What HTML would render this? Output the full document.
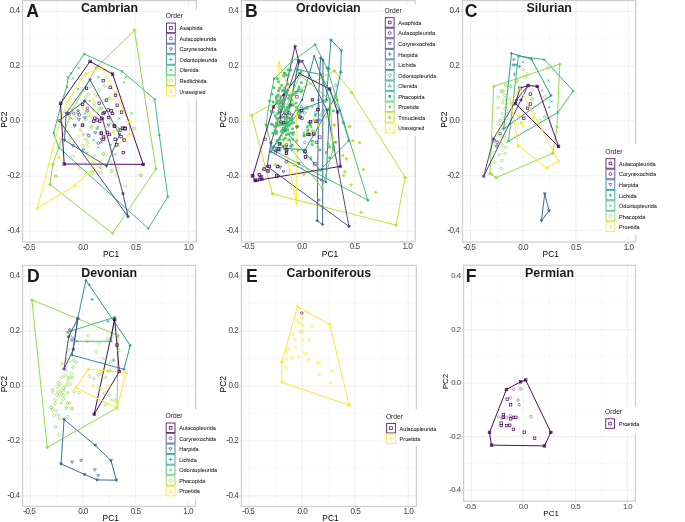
<!DOCTYPE html>
<html><head><meta charset="utf-8"><style>
html,body{margin:0;padding:0;background:#fff;}
svg{display:block;font-family:"Liberation Sans", sans-serif;will-change:transform;}
</style></head><body>
<svg width="685" height="522" viewBox="0 0 685 522">
<rect width="685" height="522" fill="#fff"/>
<clipPath id="clipA"><rect x="22.6" y="0.6" width="173.75" height="241.47"/></clipPath>
<path d="M56.62,0.6V242.07M109.38,0.6V242.07M162.12,0.6V242.07M22.6,203.62H196.35M22.6,148.68H196.35M22.6,93.72H196.35M22.6,38.78H196.35" stroke="#F2F2F2" stroke-width="0.5" fill="none"/>
<path d="M30.25,0.6V242.07M83.00,0.6V242.07M135.75,0.6V242.07M188.50,0.6V242.07M22.6,231.10H196.35M22.6,176.15H196.35M22.6,121.20H196.35M22.6,66.25H196.35M22.6,11.30H196.35" stroke="#EBEBEB" stroke-width="0.8" fill="none"/>
<g clip-path="url(#clipA)">
<path d="M84.3,54.0L122.2,71.4L154.7,99.3L159.3,135.0L167.8,196.6L148.3,228.5L58.9,147.5L53.6,133.3L61.5,103.0L66.8,86.9L68.2,77.5L71.1,73.3Z" fill="none" stroke="#35B779" stroke-width="0.95" stroke-linejoin="round"/><circle cx="84.3" cy="54.0" r="0.9" fill="#35B779"/><circle cx="122.2" cy="71.4" r="0.9" fill="#35B779"/><circle cx="154.7" cy="99.3" r="0.9" fill="#35B779"/><circle cx="159.3" cy="135.0" r="0.9" fill="#35B779"/><circle cx="167.8" cy="196.6" r="0.9" fill="#35B779"/><circle cx="148.3" cy="228.5" r="0.9" fill="#35B779"/><circle cx="58.9" cy="147.5" r="0.9" fill="#35B779"/><circle cx="53.6" cy="133.3" r="0.9" fill="#35B779"/><circle cx="61.5" cy="103.0" r="0.9" fill="#35B779"/><circle cx="66.8" cy="86.9" r="0.9" fill="#35B779"/><circle cx="68.2" cy="77.5" r="0.9" fill="#35B779"/><circle cx="71.1" cy="73.3" r="0.9" fill="#35B779"/>
<path d="M134.5,30.3L155.9,169.0L112.6,233.3L50.0,184.5L52.7,164.4L72.2,110.0L96.3,67.5Z" fill="none" stroke="#8FD744" stroke-width="0.95" stroke-linejoin="round"/><circle cx="134.5" cy="30.3" r="0.9" fill="#8FD744"/><circle cx="155.9" cy="169.0" r="0.9" fill="#8FD744"/><circle cx="112.6" cy="233.3" r="0.9" fill="#8FD744"/><circle cx="50.0" cy="184.5" r="0.9" fill="#8FD744"/><circle cx="52.7" cy="164.4" r="0.9" fill="#8FD744"/><circle cx="72.2" cy="110.0" r="0.9" fill="#8FD744"/><circle cx="96.3" cy="67.5" r="0.9" fill="#8FD744"/>
<path d="M101.9,67.0L129.5,121.6L129.5,133.8L75.0,185.3L37.4,208.1L60.2,120.0L68.2,100.3L85.4,73.9Z" fill="none" stroke="#FDE725" stroke-width="0.95" stroke-linejoin="round"/><circle cx="101.9" cy="67.0" r="0.9" fill="#FDE725"/><circle cx="129.5" cy="121.6" r="0.9" fill="#FDE725"/><circle cx="129.5" cy="133.8" r="0.9" fill="#FDE725"/><circle cx="75.0" cy="185.3" r="0.9" fill="#FDE725"/><circle cx="37.4" cy="208.1" r="0.9" fill="#FDE725"/><circle cx="60.2" cy="120.0" r="0.9" fill="#FDE725"/><circle cx="68.2" cy="100.3" r="0.9" fill="#FDE725"/><circle cx="85.4" cy="73.9" r="0.9" fill="#FDE725"/>
<path d="M90.1,61.4L112.6,74.1L143.2,164.4L64.2,164.0L60.5,103.4Z" fill="none" stroke="#440154" stroke-width="0.95" stroke-linejoin="round"/><circle cx="90.1" cy="61.4" r="0.9" fill="#440154"/><circle cx="112.6" cy="74.1" r="0.9" fill="#440154"/><circle cx="143.2" cy="164.4" r="0.9" fill="#440154"/><circle cx="64.2" cy="164.0" r="0.9" fill="#440154"/><circle cx="60.5" cy="103.4" r="0.9" fill="#440154"/>
<path d="M84.7,101.0L102.5,118.7L123.0,193.6L128.0,216.6L59.3,120.7L67.9,113.8Z" fill="none" stroke="#443A83" stroke-width="0.95" stroke-linejoin="round"/><circle cx="84.7" cy="101.0" r="0.9" fill="#443A83"/><circle cx="102.5" cy="118.7" r="0.9" fill="#443A83"/><circle cx="123.0" cy="193.6" r="0.9" fill="#443A83"/><circle cx="128.0" cy="216.6" r="0.9" fill="#443A83"/><circle cx="59.3" cy="120.7" r="0.9" fill="#443A83"/><circle cx="67.9" cy="113.8" r="0.9" fill="#443A83"/>
<path d="M90.1,79.8L119.5,134.5L106.5,166.1L64.5,140.2L66.2,113.2Z" fill="none" stroke="#31688E" stroke-width="0.95" stroke-linejoin="round"/><circle cx="90.1" cy="79.8" r="0.9" fill="#31688E"/><circle cx="119.5" cy="134.5" r="0.9" fill="#31688E"/><circle cx="106.5" cy="166.1" r="0.9" fill="#31688E"/><circle cx="64.5" cy="140.2" r="0.9" fill="#31688E"/><circle cx="66.2" cy="113.2" r="0.9" fill="#31688E"/>
<path d="M97.09,76.06L99.46,78.43M97.09,78.43L99.46,76.06" stroke="#35B779" stroke-width="0.72" stroke-opacity="0.95"/>
<path d="M124.68,76.06L127.05,78.43M124.68,78.43L127.05,76.06" stroke="#35B779" stroke-width="0.72" stroke-opacity="0.95"/>
<path d="M122.84,81.34L125.21,83.71M122.84,83.71L125.21,81.34" stroke="#35B779" stroke-width="0.72" stroke-opacity="0.95"/>
<path d="M77.55,66.86L79.92,69.23M77.55,69.23L79.92,66.86" stroke="#35B779" stroke-width="0.72" stroke-opacity="0.95"/>
<path d="M71.80,77.21L74.17,79.58M71.80,79.58L74.17,77.21" stroke="#35B779" stroke-width="0.72" stroke-opacity="0.95"/>
<path d="M76.92,87.69L79.29,90.06M76.92,90.06L79.29,87.69" stroke="#35B779" stroke-width="0.72" stroke-opacity="0.95"/>
<path d="M88.56,99.76L90.93,102.13M88.56,102.13L90.93,99.76" stroke="#35B779" stroke-width="0.72" stroke-opacity="0.95"/>
<path d="M83.81,112.26L86.19,114.63M83.81,114.63L86.19,112.26" stroke="#35B779" stroke-width="0.72" stroke-opacity="0.95"/>
<path d="M96.75,126.06L99.12,128.43M96.75,128.43L99.12,126.06" stroke="#35B779" stroke-width="0.72" stroke-opacity="0.95"/>
<path d="M70.02,117.00L72.39,119.38M70.02,119.38L72.39,117.00" stroke="#35B779" stroke-width="0.72" stroke-opacity="0.95"/>
<path d="M130.28,112.26L132.65,114.63M130.28,114.63L132.65,112.26" stroke="#35B779" stroke-width="0.72" stroke-opacity="0.95"/>
<path d="M118.21,117.44L120.58,119.81M118.21,119.81L120.58,117.44" stroke="#35B779" stroke-width="0.72" stroke-opacity="0.95"/>
<path d="M122.09,126.92L124.46,129.29M122.09,129.29L124.46,126.92" stroke="#35B779" stroke-width="0.72" stroke-opacity="0.95"/>
<path d="M82.09,133.30L84.46,135.67M82.09,135.67L84.46,133.30" stroke="#35B779" stroke-width="0.72" stroke-opacity="0.95"/>
<path d="M92.44,138.90L94.81,141.27M92.44,141.27L94.81,138.90" stroke="#35B779" stroke-width="0.72" stroke-opacity="0.95"/>
<path d="M96.75,146.23L99.12,148.60M96.75,148.60L99.12,146.23" stroke="#35B779" stroke-width="0.72" stroke-opacity="0.95"/>
<path d="M85.97,151.40L88.34,153.77M85.97,153.77L88.34,151.40" stroke="#35B779" stroke-width="0.72" stroke-opacity="0.95"/>
<path d="M100.19,141.06L102.56,143.43M100.19,143.43L102.56,141.06" stroke="#35B779" stroke-width="0.72" stroke-opacity="0.95"/>
<path d="M86.40,132.87L88.77,135.24M86.40,135.24L88.77,132.87" stroke="#35B779" stroke-width="0.72" stroke-opacity="0.95"/>
<path d="M95.88,127.69L98.25,130.06M95.88,130.06L98.25,127.69" stroke="#35B779" stroke-width="0.72" stroke-opacity="0.95"/>
<path d="M113.90,153.12L116.27,155.50M113.90,155.50L116.27,153.12" stroke="#35B779" stroke-width="0.72" stroke-opacity="0.95"/>
<path d="M100.11,141.06L102.48,143.43M100.11,143.43L102.48,141.06" stroke="#35B779" stroke-width="0.72" stroke-opacity="0.95"/>
<path d="M109.59,143.64L111.96,146.01M109.59,146.01L111.96,143.64" stroke="#35B779" stroke-width="0.72" stroke-opacity="0.95"/>
<path d="M122.09,127.26L124.46,129.63M122.09,129.63L124.46,127.26" stroke="#35B779" stroke-width="0.72" stroke-opacity="0.95"/>
<path d="M83.11,52.81L85.49,55.19M83.11,55.19L85.49,52.81" stroke="#35B779" stroke-width="0.72" stroke-opacity="0.95"/>
<path d="M121.01,70.21L123.39,72.59M121.01,72.59L123.39,70.21" stroke="#35B779" stroke-width="0.72" stroke-opacity="0.95"/>
<path d="M153.51,98.11L155.89,100.49M153.51,100.49L155.89,98.11" stroke="#35B779" stroke-width="0.72" stroke-opacity="0.95"/>
<path d="M158.11,133.81L160.49,136.19M158.11,136.19L160.49,133.81" stroke="#35B779" stroke-width="0.72" stroke-opacity="0.95"/>
<path d="M166.61,195.41L168.99,197.79M166.61,197.79L168.99,195.41" stroke="#35B779" stroke-width="0.72" stroke-opacity="0.95"/>
<path d="M147.11,227.31L149.49,229.69M147.11,229.69L149.49,227.31" stroke="#35B779" stroke-width="0.72" stroke-opacity="0.95"/>
<path d="M57.71,146.31L60.09,148.69M57.71,148.69L60.09,146.31" stroke="#35B779" stroke-width="0.72" stroke-opacity="0.95"/>
<path d="M52.41,132.11L54.79,134.49M52.41,134.49L54.79,132.11" stroke="#35B779" stroke-width="0.72" stroke-opacity="0.95"/>
<path d="M60.31,101.81L62.69,104.19M60.31,104.19L62.69,101.81" stroke="#35B779" stroke-width="0.72" stroke-opacity="0.95"/>
<path d="M65.61,85.71L67.99,88.09M65.61,88.09L67.99,85.71" stroke="#35B779" stroke-width="0.72" stroke-opacity="0.95"/>
<path d="M67.01,76.31L69.39,78.69M67.01,78.69L69.39,76.31" stroke="#35B779" stroke-width="0.72" stroke-opacity="0.95"/>
<path d="M69.91,72.11L72.29,74.49M69.91,74.49L72.29,72.11" stroke="#35B779" stroke-width="0.72" stroke-opacity="0.95"/>
<path d="M110.92,169.87L112.54,171.49L110.92,173.12L109.30,171.49Z" fill="none" stroke="#8FD744" stroke-width="0.72" stroke-opacity="0.95"/>
<path d="M92.53,171.48L94.15,173.10L92.53,174.73L90.91,173.10Z" fill="none" stroke="#8FD744" stroke-width="0.72" stroke-opacity="0.95"/>
<path d="M55.75,174.47L57.37,176.09L55.75,177.71L54.12,176.09Z" fill="none" stroke="#8FD744" stroke-width="0.72" stroke-opacity="0.95"/>
<path d="M140.80,173.32L142.43,174.94L140.80,176.56L139.18,174.94Z" fill="none" stroke="#8FD744" stroke-width="0.72" stroke-opacity="0.95"/>
<path d="M56.22,174.85L57.84,176.47L56.22,178.09L54.60,176.47Z" fill="none" stroke="#8FD744" stroke-width="0.72" stroke-opacity="0.95"/>
<path d="M91.91,170.29L93.53,171.91L91.91,173.53L90.29,171.91Z" fill="none" stroke="#8FD744" stroke-width="0.72" stroke-opacity="0.95"/>
<path d="M101.03,171.36L102.65,172.98L101.03,174.60L99.41,172.98Z" fill="none" stroke="#8FD744" stroke-width="0.72" stroke-opacity="0.95"/>
<path d="M112.57,168.68L114.19,170.30L112.57,171.92L110.95,170.30Z" fill="none" stroke="#8FD744" stroke-width="0.72" stroke-opacity="0.95"/>
<path d="M116.59,172.97L118.21,174.59L116.59,176.21L114.97,174.59Z" fill="none" stroke="#8FD744" stroke-width="0.72" stroke-opacity="0.95"/>
<path d="M125.45,184.77L127.07,186.40L125.45,188.02L123.82,186.40Z" fill="none" stroke="#8FD744" stroke-width="0.72" stroke-opacity="0.95"/>
<path d="M140.74,174.04L142.36,175.66L140.74,177.29L139.12,175.66Z" fill="none" stroke="#8FD744" stroke-width="0.72" stroke-opacity="0.95"/>
<path d="M99.22,88.12L100.85,89.74L99.22,91.36L97.60,89.74Z" fill="none" stroke="#8FD744" stroke-width="0.72" stroke-opacity="0.95"/>
<path d="M88.45,92.86L90.07,94.48L88.45,96.11L86.83,94.48Z" fill="none" stroke="#8FD744" stroke-width="0.72" stroke-opacity="0.95"/>
<path d="M85.86,95.45L87.48,97.07L85.86,98.69L84.24,97.07Z" fill="none" stroke="#8FD744" stroke-width="0.72" stroke-opacity="0.95"/>
<path d="M95.78,93.29L97.40,94.91L95.78,96.54L94.15,94.91Z" fill="none" stroke="#8FD744" stroke-width="0.72" stroke-opacity="0.95"/>
<path d="M94.05,101.48L95.67,103.10L94.05,104.73L92.43,103.10Z" fill="none" stroke="#8FD744" stroke-width="0.72" stroke-opacity="0.95"/>
<path d="M94.48,104.50L96.11,106.12L94.48,107.74L92.86,106.12Z" fill="none" stroke="#8FD744" stroke-width="0.72" stroke-opacity="0.95"/>
<path d="M99.22,106.65L100.85,108.28L99.22,109.90L97.60,108.28Z" fill="none" stroke="#8FD744" stroke-width="0.72" stroke-opacity="0.95"/>
<path d="M101.38,106.65L103.00,108.28L101.38,109.90L99.76,108.28Z" fill="none" stroke="#8FD744" stroke-width="0.72" stroke-opacity="0.95"/>
<path d="M93.19,108.38L94.81,110.00L93.19,111.62L91.57,110.00Z" fill="none" stroke="#8FD744" stroke-width="0.72" stroke-opacity="0.95"/>
<path d="M97.07,109.67L98.69,111.29L97.07,112.92L95.45,111.29Z" fill="none" stroke="#8FD744" stroke-width="0.72" stroke-opacity="0.95"/>
<path d="M88.02,113.55L89.64,115.17L88.02,116.79L86.39,115.17Z" fill="none" stroke="#8FD744" stroke-width="0.72" stroke-opacity="0.95"/>
<path d="M91.03,115.27L92.66,116.90L91.03,118.52L89.41,116.90Z" fill="none" stroke="#8FD744" stroke-width="0.72" stroke-opacity="0.95"/>
<path d="M76.81,114.84L78.43,116.47L76.81,118.09L75.19,116.47Z" fill="none" stroke="#8FD744" stroke-width="0.72" stroke-opacity="0.95"/>
<path d="M91.47,124.76L93.09,126.38L91.47,128.00L89.84,126.38Z" fill="none" stroke="#8FD744" stroke-width="0.72" stroke-opacity="0.95"/>
<path d="M85.86,118.29L87.48,119.91L85.86,121.54L84.24,119.91Z" fill="none" stroke="#8FD744" stroke-width="0.72" stroke-opacity="0.95"/>
<path d="M104.31,84.24L105.93,85.86L104.31,87.48L102.69,85.86Z" fill="none" stroke="#8FD744" stroke-width="0.72" stroke-opacity="0.95"/>
<path d="M109.48,96.31L111.11,97.93L109.48,99.55L107.86,97.93Z" fill="none" stroke="#8FD744" stroke-width="0.72" stroke-opacity="0.95"/>
<path d="M103.45,99.33L105.07,100.95L103.45,102.57L101.83,100.95Z" fill="none" stroke="#8FD744" stroke-width="0.72" stroke-opacity="0.95"/>
<path d="M101.29,107.08L102.92,108.71L101.29,110.33L99.67,108.71Z" fill="none" stroke="#8FD744" stroke-width="0.72" stroke-opacity="0.95"/>
<path d="M110.78,120.45L112.40,122.07L110.78,123.69L109.15,122.07Z" fill="none" stroke="#8FD744" stroke-width="0.72" stroke-opacity="0.95"/>
<path d="M106.90,124.76L108.52,126.38L106.90,128.00L105.27,126.38Z" fill="none" stroke="#8FD744" stroke-width="0.72" stroke-opacity="0.95"/>
<path d="M117.24,126.48L118.86,128.10L117.24,129.73L115.62,128.10Z" fill="none" stroke="#8FD744" stroke-width="0.72" stroke-opacity="0.95"/>
<path d="M134.05,126.48L135.67,128.10L134.05,129.73L132.43,128.10Z" fill="none" stroke="#8FD744" stroke-width="0.72" stroke-opacity="0.95"/>
<path d="M116.81,91.14L118.43,92.76L116.81,94.38L115.19,92.76Z" fill="none" stroke="#8FD744" stroke-width="0.72" stroke-opacity="0.95"/>
<path d="M91.47,125.53L93.09,127.16L91.47,128.78L89.84,127.16Z" fill="none" stroke="#8FD744" stroke-width="0.72" stroke-opacity="0.95"/>
<path d="M97.07,126.39L98.69,128.02L97.07,129.64L95.45,128.02Z" fill="none" stroke="#8FD744" stroke-width="0.72" stroke-opacity="0.95"/>
<path d="M85.86,137.60L87.48,139.22L85.86,140.85L84.24,139.22Z" fill="none" stroke="#8FD744" stroke-width="0.72" stroke-opacity="0.95"/>
<path d="M88.02,141.05L89.64,142.67L88.02,144.29L86.39,142.67Z" fill="none" stroke="#8FD744" stroke-width="0.72" stroke-opacity="0.95"/>
<path d="M82.84,144.07L84.47,145.69L82.84,147.31L81.22,145.69Z" fill="none" stroke="#8FD744" stroke-width="0.72" stroke-opacity="0.95"/>
<path d="M72.50,154.84L74.12,156.47L72.50,158.09L70.88,156.47Z" fill="none" stroke="#8FD744" stroke-width="0.72" stroke-opacity="0.95"/>
<path d="M94.48,153.98L96.11,155.60L94.48,157.23L92.86,155.60Z" fill="none" stroke="#8FD744" stroke-width="0.72" stroke-opacity="0.95"/>
<path d="M103.53,152.26L105.16,153.88L103.53,155.50L101.91,153.88Z" fill="none" stroke="#8FD744" stroke-width="0.72" stroke-opacity="0.95"/>
<path d="M100.52,165.62L102.14,167.24L100.52,168.86L98.89,167.24Z" fill="none" stroke="#8FD744" stroke-width="0.72" stroke-opacity="0.95"/>
<path d="M60.86,136.31L62.48,137.93L60.86,139.55L59.24,137.93Z" fill="none" stroke="#8FD744" stroke-width="0.72" stroke-opacity="0.95"/>
<path d="M134.05,127.26L135.67,128.88L134.05,130.50L132.43,128.88Z" fill="none" stroke="#8FD744" stroke-width="0.72" stroke-opacity="0.95"/>
<path d="M118.10,127.26L119.73,128.88L118.10,130.50L116.48,128.88Z" fill="none" stroke="#8FD744" stroke-width="0.72" stroke-opacity="0.95"/>
<path d="M103.88,152.26L105.50,153.88L103.88,155.50L102.26,153.88Z" fill="none" stroke="#8FD744" stroke-width="0.72" stroke-opacity="0.95"/>
<path d="M110.78,160.45L112.40,162.07L110.78,163.69L109.15,162.07Z" fill="none" stroke="#8FD744" stroke-width="0.72" stroke-opacity="0.95"/>
<path d="M118.10,166.48L119.73,168.10L118.10,169.73L116.48,168.10Z" fill="none" stroke="#8FD744" stroke-width="0.72" stroke-opacity="0.95"/>
<path d="M101.29,166.05L102.92,167.67L101.29,169.29L99.67,167.67Z" fill="none" stroke="#8FD744" stroke-width="0.72" stroke-opacity="0.95"/>
<path d="M105.17,135.02L106.79,136.64L105.17,138.26L103.55,136.64Z" fill="none" stroke="#8FD744" stroke-width="0.72" stroke-opacity="0.95"/>
<path d="M134.50,28.68L136.12,30.30L134.50,31.92L132.88,30.30Z" fill="none" stroke="#8FD744" stroke-width="0.72" stroke-opacity="0.95"/>
<path d="M155.90,167.38L157.52,169.00L155.90,170.62L154.28,169.00Z" fill="none" stroke="#8FD744" stroke-width="0.72" stroke-opacity="0.95"/>
<path d="M112.60,231.68L114.22,233.30L112.60,234.92L110.98,233.30Z" fill="none" stroke="#8FD744" stroke-width="0.72" stroke-opacity="0.95"/>
<path d="M50.00,182.88L51.62,184.50L50.00,186.12L48.38,184.50Z" fill="none" stroke="#8FD744" stroke-width="0.72" stroke-opacity="0.95"/>
<path d="M52.70,162.78L54.32,164.40L52.70,166.02L51.08,164.40Z" fill="none" stroke="#8FD744" stroke-width="0.72" stroke-opacity="0.95"/>
<path d="M72.20,108.38L73.82,110.00L72.20,111.62L70.58,110.00Z" fill="none" stroke="#8FD744" stroke-width="0.72" stroke-opacity="0.95"/>
<path d="M96.30,65.88L97.92,67.50L96.30,69.12L94.68,67.50Z" fill="none" stroke="#8FD744" stroke-width="0.72" stroke-opacity="0.95"/>
<path d="M57.76,157.55H60.63L59.20,155.05Z" fill="none" stroke="#FDE725" stroke-width="0.72" stroke-opacity="0.95"/>
<path d="M57.47,158.15H60.34L58.91,155.65Z" fill="none" stroke="#FDE725" stroke-width="0.72" stroke-opacity="0.95"/>
<path d="M89.17,87.72H92.04L90.60,85.23Z" fill="none" stroke="#FDE725" stroke-width="0.72" stroke-opacity="0.95"/>
<path d="M92.19,100.22H95.06L93.62,97.73Z" fill="none" stroke="#FDE725" stroke-width="0.72" stroke-opacity="0.95"/>
<path d="M67.62,101.95H70.49L69.05,99.45Z" fill="none" stroke="#FDE725" stroke-width="0.72" stroke-opacity="0.95"/>
<path d="M69.34,107.98H72.21L70.78,105.49Z" fill="none" stroke="#FDE725" stroke-width="0.72" stroke-opacity="0.95"/>
<path d="M81.84,108.84H84.71L83.28,106.35Z" fill="none" stroke="#FDE725" stroke-width="0.72" stroke-opacity="0.95"/>
<path d="M88.31,113.15H91.18L89.74,110.66Z" fill="none" stroke="#FDE725" stroke-width="0.72" stroke-opacity="0.95"/>
<path d="M68.05,116.17H70.92L69.48,113.67Z" fill="none" stroke="#FDE725" stroke-width="0.72" stroke-opacity="0.95"/>
<path d="M78.82,129.96H81.69L80.26,127.47Z" fill="none" stroke="#FDE725" stroke-width="0.72" stroke-opacity="0.95"/>
<path d="M111.50,99.79H114.37L112.93,97.30Z" fill="none" stroke="#FDE725" stroke-width="0.72" stroke-opacity="0.95"/>
<path d="M116.67,111.86H119.54L118.10,109.36Z" fill="none" stroke="#FDE725" stroke-width="0.72" stroke-opacity="0.95"/>
<path d="M128.74,122.21H131.61L130.17,119.71Z" fill="none" stroke="#FDE725" stroke-width="0.72" stroke-opacity="0.95"/>
<path d="M78.82,131.60H81.69L80.26,129.11Z" fill="none" stroke="#FDE725" stroke-width="0.72" stroke-opacity="0.95"/>
<path d="M77.53,137.21H80.40L78.97,134.71Z" fill="none" stroke="#FDE725" stroke-width="0.72" stroke-opacity="0.95"/>
<path d="M68.05,139.36H70.92L69.48,136.86Z" fill="none" stroke="#FDE725" stroke-width="0.72" stroke-opacity="0.95"/>
<path d="M86.15,147.12H89.02L87.59,144.62Z" fill="none" stroke="#FDE725" stroke-width="0.72" stroke-opacity="0.95"/>
<path d="M91.32,162.64H94.19L92.76,160.14Z" fill="none" stroke="#FDE725" stroke-width="0.72" stroke-opacity="0.95"/>
<path d="M87.88,158.33H90.75L89.31,155.83Z" fill="none" stroke="#FDE725" stroke-width="0.72" stroke-opacity="0.95"/>
<path d="M77.53,169.53H80.40L78.97,167.04Z" fill="none" stroke="#FDE725" stroke-width="0.72" stroke-opacity="0.95"/>
<path d="M112.36,132.46H115.23L113.79,129.97Z" fill="none" stroke="#FDE725" stroke-width="0.72" stroke-opacity="0.95"/>
<path d="M100.46,68.00H103.34L101.90,65.50Z" fill="none" stroke="#FDE725" stroke-width="0.72" stroke-opacity="0.95"/>
<path d="M128.06,122.60H130.94L129.50,120.10Z" fill="none" stroke="#FDE725" stroke-width="0.72" stroke-opacity="0.95"/>
<path d="M128.06,134.80H130.94L129.50,132.30Z" fill="none" stroke="#FDE725" stroke-width="0.72" stroke-opacity="0.95"/>
<path d="M73.56,186.30H76.44L75.00,183.80Z" fill="none" stroke="#FDE725" stroke-width="0.72" stroke-opacity="0.95"/>
<path d="M35.96,209.10H38.84L37.40,206.60Z" fill="none" stroke="#FDE725" stroke-width="0.72" stroke-opacity="0.95"/>
<path d="M58.76,121.00H61.64L60.20,118.50Z" fill="none" stroke="#FDE725" stroke-width="0.72" stroke-opacity="0.95"/>
<path d="M66.76,101.30H69.64L68.20,98.80Z" fill="none" stroke="#FDE725" stroke-width="0.72" stroke-opacity="0.95"/>
<path d="M83.96,74.90H86.84L85.40,72.40Z" fill="none" stroke="#FDE725" stroke-width="0.72" stroke-opacity="0.95"/>
<rect x="102.09" y="79.44" width="2.50" height="2.50" fill="none" stroke="#440154" stroke-width="0.72" stroke-opacity="0.95"/>
<rect x="85.30" y="87.03" width="2.50" height="2.50" fill="none" stroke="#440154" stroke-width="0.72" stroke-opacity="0.95"/>
<rect x="97.98" y="102.03" width="2.50" height="2.50" fill="none" stroke="#440154" stroke-width="0.72" stroke-opacity="0.95"/>
<rect x="81.34" y="103.15" width="2.50" height="2.50" fill="none" stroke="#440154" stroke-width="0.72" stroke-opacity="0.95"/>
<rect x="92.37" y="119.96" width="2.50" height="2.50" fill="none" stroke="#440154" stroke-width="0.72" stroke-opacity="0.95"/>
<rect x="95.82" y="118.67" width="2.50" height="2.50" fill="none" stroke="#440154" stroke-width="0.72" stroke-opacity="0.95"/>
<rect x="98.41" y="119.96" width="2.50" height="2.50" fill="none" stroke="#440154" stroke-width="0.72" stroke-opacity="0.95"/>
<rect x="93.67" y="116.94" width="2.50" height="2.50" fill="none" stroke="#440154" stroke-width="0.72" stroke-opacity="0.95"/>
<rect x="101.86" y="112.20" width="2.50" height="2.50" fill="none" stroke="#440154" stroke-width="0.72" stroke-opacity="0.95"/>
<rect x="108.92" y="86.17" width="2.50" height="2.50" fill="none" stroke="#440154" stroke-width="0.72" stroke-opacity="0.95"/>
<rect x="114.27" y="94.10" width="2.50" height="2.50" fill="none" stroke="#440154" stroke-width="0.72" stroke-opacity="0.95"/>
<rect x="105.22" y="98.84" width="2.50" height="2.50" fill="none" stroke="#440154" stroke-width="0.72" stroke-opacity="0.95"/>
<rect x="115.99" y="104.01" width="2.50" height="2.50" fill="none" stroke="#440154" stroke-width="0.72" stroke-opacity="0.95"/>
<rect x="120.30" y="110.91" width="2.50" height="2.50" fill="none" stroke="#440154" stroke-width="0.72" stroke-opacity="0.95"/>
<rect x="109.96" y="109.61" width="2.50" height="2.50" fill="none" stroke="#440154" stroke-width="0.72" stroke-opacity="0.95"/>
<rect x="111.25" y="112.20" width="2.50" height="2.50" fill="none" stroke="#440154" stroke-width="0.72" stroke-opacity="0.95"/>
<rect x="103.06" y="111.34" width="2.50" height="2.50" fill="none" stroke="#440154" stroke-width="0.72" stroke-opacity="0.95"/>
<rect x="106.94" y="108.75" width="2.50" height="2.50" fill="none" stroke="#440154" stroke-width="0.72" stroke-opacity="0.95"/>
<rect x="107.37" y="116.34" width="2.50" height="2.50" fill="none" stroke="#440154" stroke-width="0.72" stroke-opacity="0.95"/>
<rect x="100.48" y="116.94" width="2.50" height="2.50" fill="none" stroke="#440154" stroke-width="0.72" stroke-opacity="0.95"/>
<rect x="113.41" y="125.13" width="2.50" height="2.50" fill="none" stroke="#440154" stroke-width="0.72" stroke-opacity="0.95"/>
<rect x="123.75" y="126.86" width="2.50" height="2.50" fill="none" stroke="#440154" stroke-width="0.72" stroke-opacity="0.95"/>
<rect x="121.17" y="126.86" width="2.50" height="2.50" fill="none" stroke="#440154" stroke-width="0.72" stroke-opacity="0.95"/>
<rect x="100.13" y="131.94" width="2.50" height="2.50" fill="none" stroke="#440154" stroke-width="0.72" stroke-opacity="0.95"/>
<rect x="102.29" y="135.82" width="2.50" height="2.50" fill="none" stroke="#440154" stroke-width="0.72" stroke-opacity="0.95"/>
<rect x="81.17" y="124.18" width="2.50" height="2.50" fill="none" stroke="#440154" stroke-width="0.72" stroke-opacity="0.95"/>
<rect x="119.01" y="128.92" width="2.50" height="2.50" fill="none" stroke="#440154" stroke-width="0.72" stroke-opacity="0.95"/>
<rect x="123.75" y="127.63" width="2.50" height="2.50" fill="none" stroke="#440154" stroke-width="0.72" stroke-opacity="0.95"/>
<rect x="100.05" y="131.94" width="2.50" height="2.50" fill="none" stroke="#440154" stroke-width="0.72" stroke-opacity="0.95"/>
<rect x="108.23" y="133.23" width="2.50" height="2.50" fill="none" stroke="#440154" stroke-width="0.72" stroke-opacity="0.95"/>
<rect x="106.08" y="131.08" width="2.50" height="2.50" fill="none" stroke="#440154" stroke-width="0.72" stroke-opacity="0.95"/>
<rect x="119.87" y="135.39" width="2.50" height="2.50" fill="none" stroke="#440154" stroke-width="0.72" stroke-opacity="0.95"/>
<rect x="113.84" y="137.98" width="2.50" height="2.50" fill="none" stroke="#440154" stroke-width="0.72" stroke-opacity="0.95"/>
<rect x="122.89" y="138.84" width="2.50" height="2.50" fill="none" stroke="#440154" stroke-width="0.72" stroke-opacity="0.95"/>
<rect x="115.56" y="143.58" width="2.50" height="2.50" fill="none" stroke="#440154" stroke-width="0.72" stroke-opacity="0.95"/>
<rect x="122.03" y="151.34" width="2.50" height="2.50" fill="none" stroke="#440154" stroke-width="0.72" stroke-opacity="0.95"/>
<rect x="102.20" y="137.98" width="2.50" height="2.50" fill="none" stroke="#440154" stroke-width="0.72" stroke-opacity="0.95"/>
<rect x="112.98" y="124.61" width="2.50" height="2.50" fill="none" stroke="#440154" stroke-width="0.72" stroke-opacity="0.95"/>
<rect x="88.85" y="60.15" width="2.50" height="2.50" fill="none" stroke="#440154" stroke-width="0.72" stroke-opacity="0.95"/>
<rect x="111.35" y="72.85" width="2.50" height="2.50" fill="none" stroke="#440154" stroke-width="0.72" stroke-opacity="0.95"/>
<rect x="141.95" y="163.15" width="2.50" height="2.50" fill="none" stroke="#440154" stroke-width="0.72" stroke-opacity="0.95"/>
<rect x="62.95" y="162.75" width="2.50" height="2.50" fill="none" stroke="#440154" stroke-width="0.72" stroke-opacity="0.95"/>
<rect x="59.25" y="102.15" width="2.50" height="2.50" fill="none" stroke="#440154" stroke-width="0.72" stroke-opacity="0.95"/>
<circle cx="87.41" cy="108.28" r="1.31" fill="none" stroke="#443A83" stroke-width="0.72" stroke-opacity="0.95"/>
<circle cx="87.16" cy="110.86" r="1.31" fill="none" stroke="#443A83" stroke-width="0.72" stroke-opacity="0.95"/>
<circle cx="73.79" cy="113.45" r="1.31" fill="none" stroke="#443A83" stroke-width="0.72" stroke-opacity="0.95"/>
<circle cx="78.10" cy="112.59" r="1.31" fill="none" stroke="#443A83" stroke-width="0.72" stroke-opacity="0.95"/>
<circle cx="79.40" cy="114.74" r="1.31" fill="none" stroke="#443A83" stroke-width="0.72" stroke-opacity="0.95"/>
<circle cx="82.84" cy="124.66" r="1.31" fill="none" stroke="#443A83" stroke-width="0.72" stroke-opacity="0.95"/>
<circle cx="68.62" cy="113.45" r="1.31" fill="none" stroke="#443A83" stroke-width="0.72" stroke-opacity="0.95"/>
<circle cx="88.88" cy="135.78" r="1.31" fill="none" stroke="#443A83" stroke-width="0.72" stroke-opacity="0.95"/>
<circle cx="98.36" cy="143.10" r="1.31" fill="none" stroke="#443A83" stroke-width="0.72" stroke-opacity="0.95"/>
<circle cx="84.70" cy="101.00" r="1.31" fill="none" stroke="#443A83" stroke-width="0.72" stroke-opacity="0.95"/>
<circle cx="102.50" cy="118.70" r="1.31" fill="none" stroke="#443A83" stroke-width="0.72" stroke-opacity="0.95"/>
<circle cx="123.00" cy="193.60" r="1.31" fill="none" stroke="#443A83" stroke-width="0.72" stroke-opacity="0.95"/>
<circle cx="128.00" cy="216.60" r="1.31" fill="none" stroke="#443A83" stroke-width="0.72" stroke-opacity="0.95"/>
<circle cx="59.30" cy="120.70" r="1.31" fill="none" stroke="#443A83" stroke-width="0.72" stroke-opacity="0.95"/>
<circle cx="67.90" cy="113.80" r="1.31" fill="none" stroke="#443A83" stroke-width="0.72" stroke-opacity="0.95"/>
<path d="M77.53,118.48H80.40L78.97,120.98Z" fill="none" stroke="#31688E" stroke-width="0.72" stroke-opacity="0.95"/>
<path d="M73.22,124.09H76.09L74.66,126.58Z" fill="none" stroke="#31688E" stroke-width="0.72" stroke-opacity="0.95"/>
<path d="M83.56,116.76H86.44L85.00,119.26Z" fill="none" stroke="#31688E" stroke-width="0.72" stroke-opacity="0.95"/>
<path d="M107.19,124.09H110.06L108.62,126.58Z" fill="none" stroke="#31688E" stroke-width="0.72" stroke-opacity="0.95"/>
<path d="M73.22,124.86H76.09L74.66,127.36Z" fill="none" stroke="#31688E" stroke-width="0.72" stroke-opacity="0.95"/>
<path d="M93.91,131.76H96.78L95.34,134.26Z" fill="none" stroke="#31688E" stroke-width="0.72" stroke-opacity="0.95"/>
<path d="M99.94,138.23H102.81L101.38,140.72Z" fill="none" stroke="#31688E" stroke-width="0.72" stroke-opacity="0.95"/>
<path d="M81.84,149.00H84.71L83.28,151.50Z" fill="none" stroke="#31688E" stroke-width="0.72" stroke-opacity="0.95"/>
<path d="M71.50,144.69H74.37L72.93,147.19Z" fill="none" stroke="#31688E" stroke-width="0.72" stroke-opacity="0.95"/>
<path d="M88.66,78.80H91.54L90.10,81.30Z" fill="none" stroke="#31688E" stroke-width="0.72" stroke-opacity="0.95"/>
<path d="M118.06,133.50H120.94L119.50,136.00Z" fill="none" stroke="#31688E" stroke-width="0.72" stroke-opacity="0.95"/>
<path d="M105.06,165.10H107.94L106.50,167.60Z" fill="none" stroke="#31688E" stroke-width="0.72" stroke-opacity="0.95"/>
<path d="M63.06,139.20H65.94L64.50,141.70Z" fill="none" stroke="#31688E" stroke-width="0.72" stroke-opacity="0.95"/>
<path d="M64.76,112.20H67.64L66.20,114.70Z" fill="none" stroke="#31688E" stroke-width="0.72" stroke-opacity="0.95"/>
<path d="M76.48,110.43H79.73M78.10,108.81V112.05" stroke="#21908C" stroke-width="0.72" stroke-opacity="0.95"/>
</g>
<rect x="22.6" y="0.6" width="173.75" height="241.47" fill="none" stroke="#CECECE" stroke-width="1.2"/>
<path d="M30.25,242.07v2.2M83.00,242.07v2.2M135.75,242.07v2.2M188.50,242.07v2.2M22.6,231.10h-2.2M22.6,176.15h-2.2M22.6,121.20h-2.2M22.6,66.25h-2.2M22.6,11.30h-2.2" stroke="#CECECE" stroke-width="0.8"/>
<g font-size="8.20" letter-spacing="-0.55" fill="#4D4D4D" stroke="#4D4D4D" stroke-width="0.04"><text x="29.15" y="249.57" text-anchor="middle">-0.5</text><text x="83.00" y="249.57" text-anchor="middle">0.0</text><text x="135.75" y="249.57" text-anchor="middle">0.5</text><text x="188.50" y="249.57" text-anchor="middle">1.0</text><text x="19.45" y="233.15" text-anchor="end">-0.4</text><text x="19.45" y="178.20" text-anchor="end">-0.2</text><text x="19.45" y="123.25" text-anchor="end">0.0</text><text x="19.45" y="68.30" text-anchor="end">0.2</text><text x="19.45" y="13.35" text-anchor="end">0.4</text></g>
<text x="111.07" y="256.67" text-anchor="middle" font-size="8.40" fill="#000">PC1</text>
<text transform="translate(6.90,119.63) rotate(-90)" text-anchor="middle" font-size="8.40" fill="#000">PC2</text>
<text x="109.47" y="12.20" text-anchor="middle" font-size="12.4" font-weight="bold" fill="#1a1a1a">Cambrian</text>
<text x="26.20" y="16.60" font-size="17.6" font-weight="bold" fill="#1a1a1a">A</text>
<rect x="162.8" y="9.5" width="69.19999999999999" height="89.7" fill="#fff"/>
<text x="165.80" y="18.30" font-size="6.7" fill="#1a1a1a">Order</text>
<rect x="166.50" y="23.10" width="8.80" height="9.55" fill="#fff" stroke="#440154" stroke-width="0.95" stroke-opacity="0.85"/>
<rect x="169.54" y="26.52" width="2.72" height="2.72" fill="none" stroke="#440154" stroke-width="0.7"/>
<text x="179.50" y="30.27" font-size="5.55" fill="#1a1a1a" stroke="#1a1a1a" stroke-width="0.05">Asaphida</text>
<rect x="166.50" y="33.65" width="8.80" height="9.55" fill="#fff" stroke="#443A83" stroke-width="0.95" stroke-opacity="0.85"/>
<circle cx="170.90" cy="38.43" r="1.43" fill="none" stroke="#443A83" stroke-width="0.7"/>
<text x="179.50" y="40.83" font-size="5.55" fill="#1a1a1a" stroke="#1a1a1a" stroke-width="0.05">Aulacopleurida</text>
<rect x="166.50" y="44.20" width="8.80" height="9.55" fill="#fff" stroke="#31688E" stroke-width="0.95" stroke-opacity="0.85"/>
<path d="M169.34,47.89H172.46L170.90,50.61Z" fill="none" stroke="#31688E" stroke-width="0.7"/>
<text x="179.50" y="51.38" font-size="5.55" fill="#1a1a1a" stroke="#1a1a1a" stroke-width="0.05">Corynexochida</text>
<rect x="166.50" y="54.75" width="8.80" height="9.55" fill="#fff" stroke="#21908C" stroke-width="0.95" stroke-opacity="0.85"/>
<path d="M169.13,59.52H172.67M170.90,57.76V61.29" stroke="#21908C" stroke-width="0.7"/>
<text x="179.50" y="61.92" font-size="5.55" fill="#1a1a1a" stroke="#1a1a1a" stroke-width="0.05">Odontopleurida</text>
<rect x="166.50" y="65.30" width="8.80" height="9.55" fill="#fff" stroke="#35B779" stroke-width="0.95" stroke-opacity="0.85"/>
<path d="M169.61,68.78L172.19,71.37M169.61,71.37L172.19,68.78" stroke="#35B779" stroke-width="0.7"/>
<text x="179.50" y="72.48" font-size="5.55" fill="#1a1a1a" stroke="#1a1a1a" stroke-width="0.05">Olenida</text>
<rect x="166.50" y="75.85" width="8.80" height="9.55" fill="#fff" stroke="#8FD744" stroke-width="0.95" stroke-opacity="0.85"/>
<path d="M170.90,78.86L172.67,80.62L170.90,82.39L169.13,80.62Z" fill="none" stroke="#8FD744" stroke-width="0.7"/>
<text x="179.50" y="83.03" font-size="5.55" fill="#1a1a1a" stroke="#1a1a1a" stroke-width="0.05">Redlichiida</text>
<rect x="166.50" y="86.40" width="8.80" height="9.55" fill="#fff" stroke="#FDE725" stroke-width="0.95" stroke-opacity="0.85"/>
<path d="M169.34,92.26H172.46L170.90,89.54Z" fill="none" stroke="#FDE725" stroke-width="0.7"/>
<text x="179.50" y="93.58" font-size="5.55" fill="#1a1a1a" stroke="#1a1a1a" stroke-width="0.05" textLength="26" lengthAdjust="spacingAndGlyphs">Unassigned</text>
<clipPath id="clipB"><rect x="241.5" y="0.6" width="173.7" height="241.35"/></clipPath>
<path d="M275.68,0.6V241.95M328.32,0.6V241.95M380.98,0.6V241.95M241.5,203.62H415.2M241.5,148.68H415.2M241.5,93.72H415.2M241.5,38.78H415.2" stroke="#F2F2F2" stroke-width="0.5" fill="none"/>
<path d="M249.35,0.6V241.95M302.00,0.6V241.95M354.65,0.6V241.95M407.30,0.6V241.95M241.5,231.10H415.2M241.5,176.15H415.2M241.5,121.20H415.2M241.5,66.25H415.2M241.5,11.30H415.2" stroke="#EBEBEB" stroke-width="0.8" fill="none"/>
<g clip-path="url(#clipB)">
<path d="M334.4,70.8L351.6,92.4L405.2,177.4L396.0,225.1L272.4,193.9L251.6,115.2Z" fill="none" stroke="#BBDF27" stroke-width="0.95" stroke-linejoin="round"/><circle cx="334.4" cy="70.8" r="0.9" fill="#BBDF27"/><circle cx="351.6" cy="92.4" r="0.9" fill="#BBDF27"/><circle cx="405.2" cy="177.4" r="0.9" fill="#BBDF27"/><circle cx="396.0" cy="225.1" r="0.9" fill="#BBDF27"/><circle cx="272.4" cy="193.9" r="0.9" fill="#BBDF27"/><circle cx="251.6" cy="115.2" r="0.9" fill="#BBDF27"/>
<path d="M331.0,40.0L341.3,50.3L340.7,72.2L335.6,96.3L305.0,150.0L273.4,147.0L300.0,110.0L326.4,100.0L328.7,68.7Z" fill="none" stroke="#21908C" stroke-width="0.95" stroke-linejoin="round"/><circle cx="331.0" cy="40.0" r="0.9" fill="#21908C"/><circle cx="341.3" cy="50.3" r="0.9" fill="#21908C"/><circle cx="340.7" cy="72.2" r="0.9" fill="#21908C"/><circle cx="335.6" cy="96.3" r="0.9" fill="#21908C"/><circle cx="305.0" cy="150.0" r="0.9" fill="#21908C"/><circle cx="273.4" cy="147.0" r="0.9" fill="#21908C"/><circle cx="300.0" cy="110.0" r="0.9" fill="#21908C"/><circle cx="326.4" cy="100.0" r="0.9" fill="#21908C"/><circle cx="328.7" cy="68.7" r="0.9" fill="#21908C"/>
<path d="M315.1,44.8L327.0,68.0L337.0,100.0L367.9,200.2L272.4,149.8L266.0,125.0L269.6,100.9L274.2,78.7L291.9,61.3Z" fill="none" stroke="#43BF71" stroke-width="0.95" stroke-linejoin="round"/><circle cx="315.1" cy="44.8" r="0.9" fill="#43BF71"/><circle cx="327.0" cy="68.0" r="0.9" fill="#43BF71"/><circle cx="337.0" cy="100.0" r="0.9" fill="#43BF71"/><circle cx="367.9" cy="200.2" r="0.9" fill="#43BF71"/><circle cx="272.4" cy="149.8" r="0.9" fill="#43BF71"/><circle cx="266.0" cy="125.0" r="0.9" fill="#43BF71"/><circle cx="269.6" cy="100.9" r="0.9" fill="#43BF71"/><circle cx="274.2" cy="78.7" r="0.9" fill="#43BF71"/><circle cx="291.9" cy="61.3" r="0.9" fill="#43BF71"/>
<path d="M295.1,46.3L299.0,62.0L290.0,105.0L280.0,118.0L284.0,95.0Z" fill="none" stroke="#482576" stroke-width="0.95" stroke-linejoin="round"/><circle cx="295.1" cy="46.3" r="0.9" fill="#482576"/><circle cx="299.0" cy="62.0" r="0.9" fill="#482576"/><circle cx="290.0" cy="105.0" r="0.9" fill="#482576"/><circle cx="280.0" cy="118.0" r="0.9" fill="#482576"/><circle cx="284.0" cy="95.0" r="0.9" fill="#482576"/>
<path d="M299.9,73.9L329.8,88.9L337.5,112.0L340.3,166.4L255.3,180.7L252.8,175.9L273.4,106.9Z" fill="none" stroke="#440154" stroke-width="0.95" stroke-linejoin="round"/><circle cx="299.9" cy="73.9" r="0.9" fill="#440154"/><circle cx="329.8" cy="88.9" r="0.9" fill="#440154"/><circle cx="337.5" cy="112.0" r="0.9" fill="#440154"/><circle cx="340.3" cy="166.4" r="0.9" fill="#440154"/><circle cx="255.3" cy="180.7" r="0.9" fill="#440154"/><circle cx="252.8" cy="175.9" r="0.9" fill="#440154"/><circle cx="273.4" cy="106.9" r="0.9" fill="#440154"/>
<path d="M298.2,60.5L302.2,61.3L326.9,110.0L349.0,226.5L267.1,166.4L270.9,143.1Z" fill="none" stroke="#414487" stroke-width="0.95" stroke-linejoin="round"/><circle cx="298.2" cy="60.5" r="0.9" fill="#414487"/><circle cx="302.2" cy="61.3" r="0.9" fill="#414487"/><circle cx="326.9" cy="110.0" r="0.9" fill="#414487"/><circle cx="349.0" cy="226.5" r="0.9" fill="#414487"/><circle cx="267.1" cy="166.4" r="0.9" fill="#414487"/><circle cx="270.9" cy="143.1" r="0.9" fill="#414487"/>
<path d="M320.5,58.0L323.0,60.0L322.6,224.5L317.2,220.7L318.5,100.0Z" fill="none" stroke="#35608D" stroke-width="0.95" stroke-linejoin="round"/><circle cx="320.5" cy="58.0" r="0.9" fill="#35608D"/><circle cx="323.0" cy="60.0" r="0.9" fill="#35608D"/><circle cx="322.6" cy="224.5" r="0.9" fill="#35608D"/><circle cx="317.2" cy="220.7" r="0.9" fill="#35608D"/><circle cx="318.5" cy="100.0" r="0.9" fill="#35608D"/>
<path d="M278.8,62.3L296.2,108.9L297.1,140.0L296.5,203.5L279.3,120.0Z" fill="none" stroke="#FDE725" stroke-width="0.95" stroke-linejoin="round"/><circle cx="278.8" cy="62.3" r="0.9" fill="#FDE725"/><circle cx="296.2" cy="108.9" r="0.9" fill="#FDE725"/><circle cx="297.1" cy="140.0" r="0.9" fill="#FDE725"/><circle cx="296.5" cy="203.5" r="0.9" fill="#FDE725"/><circle cx="279.3" cy="120.0" r="0.9" fill="#FDE725"/>
<path d="M314.3,56.1L320.6,74.5L330.0,100.0L325.9,182.2L270.9,151.7L302.0,100.0Z" fill="none" stroke="#2A788E" stroke-width="0.95" stroke-linejoin="round"/><circle cx="314.3" cy="56.1" r="0.9" fill="#2A788E"/><circle cx="320.6" cy="74.5" r="0.9" fill="#2A788E"/><circle cx="330.0" cy="100.0" r="0.9" fill="#2A788E"/><circle cx="325.9" cy="182.2" r="0.9" fill="#2A788E"/><circle cx="270.9" cy="151.7" r="0.9" fill="#2A788E"/><circle cx="302.0" cy="100.0" r="0.9" fill="#2A788E"/>
<path d="M297.1,69.3L320.6,74.5L339.6,110.0L348.8,140.6L320.0,170.0L285.0,130.0Z" fill="none" stroke="#22A884" stroke-width="0.95" stroke-linejoin="round"/><circle cx="297.1" cy="69.3" r="0.9" fill="#22A884"/><circle cx="320.6" cy="74.5" r="0.9" fill="#22A884"/><circle cx="339.6" cy="110.0" r="0.9" fill="#22A884"/><circle cx="348.8" cy="140.6" r="0.9" fill="#22A884"/><circle cx="320.0" cy="170.0" r="0.9" fill="#22A884"/><circle cx="285.0" cy="130.0" r="0.9" fill="#22A884"/>
<path d="M300.0,75.0L330.0,100.0L333.0,150.0L322.0,188.0L292.0,150.0L285.0,110.0Z" fill="none" stroke="#7AD151" stroke-width="0.95" stroke-linejoin="round"/><circle cx="300.0" cy="75.0" r="0.9" fill="#7AD151"/><circle cx="330.0" cy="100.0" r="0.9" fill="#7AD151"/><circle cx="333.0" cy="150.0" r="0.9" fill="#7AD151"/><circle cx="322.0" cy="188.0" r="0.9" fill="#7AD151"/><circle cx="292.0" cy="150.0" r="0.9" fill="#7AD151"/><circle cx="285.0" cy="110.0" r="0.9" fill="#7AD151"/>
<rect x="276.38" y="112.23" width="2.62" height="2.62" fill="#43BF71" fill-opacity="0.9"/>
<rect x="297.31" y="109.33" width="2.62" height="2.62" fill="#43BF71" fill-opacity="0.9"/>
<rect x="269.86" y="122.83" width="2.62" height="2.62" fill="#43BF71" fill-opacity="0.9"/>
<rect x="281.86" y="129.43" width="2.62" height="2.62" fill="#43BF71" fill-opacity="0.9"/>
<rect x="277.93" y="143.03" width="2.62" height="2.62" fill="#43BF71" fill-opacity="0.9"/>
<rect x="285.13" y="122.46" width="2.62" height="2.62" fill="#43BF71" fill-opacity="0.9"/>
<rect x="291.59" y="133.13" width="2.62" height="2.62" fill="#43BF71" fill-opacity="0.9"/>
<rect x="275.03" y="131.97" width="2.62" height="2.62" fill="#43BF71" fill-opacity="0.9"/>
<rect x="275.78" y="139.19" width="2.62" height="2.62" fill="#43BF71" fill-opacity="0.9"/>
<rect x="276.47" y="124.29" width="2.62" height="2.62" fill="#43BF71" fill-opacity="0.9"/>
<rect x="274.91" y="123.84" width="2.62" height="2.62" fill="#43BF71" fill-opacity="0.9"/>
<rect x="291.41" y="137.99" width="2.62" height="2.62" fill="#43BF71" fill-opacity="0.9"/>
<rect x="275.98" y="94.94" width="2.62" height="2.62" fill="#43BF71" fill-opacity="0.9"/>
<rect x="286.25" y="106.22" width="2.62" height="2.62" fill="#43BF71" fill-opacity="0.9"/>
<rect x="274.98" y="129.95" width="2.62" height="2.62" fill="#43BF71" fill-opacity="0.9"/>
<rect x="271.48" y="131.96" width="2.62" height="2.62" fill="#43BF71" fill-opacity="0.9"/>
<rect x="289.06" y="118.47" width="2.62" height="2.62" fill="#43BF71" fill-opacity="0.9"/>
<rect x="273.95" y="114.27" width="2.62" height="2.62" fill="#43BF71" fill-opacity="0.9"/>
<rect x="292.29" y="121.33" width="2.62" height="2.62" fill="#43BF71" fill-opacity="0.9"/>
<rect x="290.34" y="118.99" width="2.62" height="2.62" fill="#43BF71" fill-opacity="0.9"/>
<rect x="281.82" y="121.39" width="2.62" height="2.62" fill="#43BF71" fill-opacity="0.9"/>
<rect x="281.85" y="123.38" width="2.62" height="2.62" fill="#43BF71" fill-opacity="0.9"/>
<rect x="287.35" y="138.66" width="2.62" height="2.62" fill="#43BF71" fill-opacity="0.9"/>
<rect x="279.72" y="101.70" width="2.62" height="2.62" fill="#43BF71" fill-opacity="0.9"/>
<rect x="275.79" y="101.91" width="2.62" height="2.62" fill="#43BF71" fill-opacity="0.9"/>
<rect x="275.00" y="149.51" width="2.62" height="2.62" fill="#43BF71" fill-opacity="0.9"/>
<rect x="276.57" y="93.65" width="2.62" height="2.62" fill="#43BF71" fill-opacity="0.9"/>
<rect x="283.83" y="117.96" width="2.62" height="2.62" fill="#43BF71" fill-opacity="0.9"/>
<rect x="287.46" y="120.82" width="2.62" height="2.62" fill="#43BF71" fill-opacity="0.9"/>
<rect x="295.14" y="106.16" width="2.62" height="2.62" fill="#43BF71" fill-opacity="0.9"/>
<rect x="282.68" y="110.43" width="2.62" height="2.62" fill="#43BF71" fill-opacity="0.9"/>
<rect x="277.13" y="89.48" width="2.62" height="2.62" fill="#43BF71" fill-opacity="0.9"/>
<rect x="285.53" y="89.62" width="2.62" height="2.62" fill="#43BF71" fill-opacity="0.9"/>
<rect x="283.68" y="125.93" width="2.62" height="2.62" fill="#43BF71" fill-opacity="0.9"/>
<rect x="283.93" y="90.85" width="2.62" height="2.62" fill="#43BF71" fill-opacity="0.9"/>
<rect x="287.05" y="106.12" width="2.62" height="2.62" fill="#43BF71" fill-opacity="0.9"/>
<rect x="283.85" y="111.73" width="2.62" height="2.62" fill="#43BF71" fill-opacity="0.9"/>
<rect x="295.71" y="108.29" width="2.62" height="2.62" fill="#43BF71" fill-opacity="0.9"/>
<rect x="279.22" y="123.11" width="2.62" height="2.62" fill="#43BF71" fill-opacity="0.9"/>
<rect x="269.75" y="109.89" width="2.62" height="2.62" fill="#43BF71" fill-opacity="0.9"/>
<rect x="279.17" y="122.41" width="2.62" height="2.62" fill="#43BF71" fill-opacity="0.9"/>
<rect x="278.18" y="148.89" width="2.62" height="2.62" fill="#43BF71" fill-opacity="0.9"/>
<rect x="295.55" y="139.26" width="2.62" height="2.62" fill="#43BF71" fill-opacity="0.9"/>
<rect x="280.69" y="129.19" width="2.62" height="2.62" fill="#43BF71" fill-opacity="0.9"/>
<rect x="296.78" y="148.71" width="2.62" height="2.62" fill="#43BF71" fill-opacity="0.9"/>
<rect x="286.04" y="109.01" width="2.62" height="2.62" fill="#43BF71" fill-opacity="0.9"/>
<rect x="289.69" y="131.68" width="2.62" height="2.62" fill="#43BF71" fill-opacity="0.9"/>
<rect x="281.58" y="115.97" width="2.62" height="2.62" fill="#43BF71" fill-opacity="0.9"/>
<rect x="270.78" y="92.83" width="2.62" height="2.62" fill="#43BF71" fill-opacity="0.9"/>
<rect x="271.28" y="123.34" width="2.62" height="2.62" fill="#43BF71" fill-opacity="0.9"/>
<rect x="282.54" y="105.86" width="2.62" height="2.62" fill="#43BF71" fill-opacity="0.9"/>
<rect x="279.09" y="142.41" width="2.62" height="2.62" fill="#43BF71" fill-opacity="0.9"/>
<rect x="271.90" y="110.89" width="2.62" height="2.62" fill="#43BF71" fill-opacity="0.9"/>
<rect x="278.01" y="142.58" width="2.62" height="2.62" fill="#43BF71" fill-opacity="0.9"/>
<rect x="286.66" y="107.07" width="2.62" height="2.62" fill="#43BF71" fill-opacity="0.9"/>
<rect x="285.68" y="121.71" width="2.62" height="2.62" fill="#43BF71" fill-opacity="0.9"/>
<rect x="284.57" y="121.58" width="2.62" height="2.62" fill="#43BF71" fill-opacity="0.9"/>
<rect x="285.68" y="128.38" width="2.62" height="2.62" fill="#43BF71" fill-opacity="0.9"/>
<rect x="275.10" y="131.19" width="2.62" height="2.62" fill="#43BF71" fill-opacity="0.9"/>
<rect x="274.96" y="95.69" width="2.62" height="2.62" fill="#43BF71" fill-opacity="0.9"/>
<rect x="277.95" y="102.75" width="2.62" height="2.62" fill="#43BF71" fill-opacity="0.9"/>
<rect x="275.76" y="99.35" width="2.62" height="2.62" fill="#43BF71" fill-opacity="0.9"/>
<rect x="287.25" y="133.03" width="2.62" height="2.62" fill="#43BF71" fill-opacity="0.9"/>
<rect x="276.00" y="140.89" width="2.62" height="2.62" fill="#43BF71" fill-opacity="0.9"/>
<rect x="280.16" y="105.13" width="2.62" height="2.62" fill="#43BF71" fill-opacity="0.9"/>
<rect x="273.10" y="125.11" width="2.62" height="2.62" fill="#43BF71" fill-opacity="0.9"/>
<rect x="280.06" y="122.37" width="2.62" height="2.62" fill="#43BF71" fill-opacity="0.9"/>
<rect x="303.12" y="134.07" width="2.62" height="2.62" fill="#43BF71" fill-opacity="0.9"/>
<rect x="280.18" y="99.45" width="2.62" height="2.62" fill="#43BF71" fill-opacity="0.9"/>
<rect x="277.72" y="106.04" width="2.62" height="2.62" fill="#43BF71" fill-opacity="0.9"/>
<rect x="276.15" y="77.25" width="2.62" height="2.62" fill="#43BF71" fill-opacity="0.9"/>
<rect x="281.91" y="98.87" width="2.62" height="2.62" fill="#43BF71" fill-opacity="0.9"/>
<rect x="297.54" y="113.73" width="2.62" height="2.62" fill="#43BF71" fill-opacity="0.9"/>
<rect x="287.90" y="123.96" width="2.62" height="2.62" fill="#43BF71" fill-opacity="0.9"/>
<rect x="274.96" y="121.73" width="2.62" height="2.62" fill="#43BF71" fill-opacity="0.9"/>
<rect x="277.58" y="111.37" width="2.62" height="2.62" fill="#43BF71" fill-opacity="0.9"/>
<rect x="280.42" y="84.12" width="2.62" height="2.62" fill="#43BF71" fill-opacity="0.9"/>
<rect x="291.35" y="127.54" width="2.62" height="2.62" fill="#43BF71" fill-opacity="0.9"/>
<rect x="279.62" y="141.81" width="2.62" height="2.62" fill="#43BF71" fill-opacity="0.9"/>
<rect x="282.72" y="102.92" width="2.62" height="2.62" fill="#43BF71" fill-opacity="0.9"/>
<rect x="280.16" y="108.19" width="2.62" height="2.62" fill="#43BF71" fill-opacity="0.9"/>
<rect x="278.92" y="100.48" width="2.62" height="2.62" fill="#43BF71" fill-opacity="0.9"/>
<rect x="280.16" y="130.18" width="2.62" height="2.62" fill="#43BF71" fill-opacity="0.9"/>
<rect x="283.46" y="147.36" width="2.62" height="2.62" fill="#43BF71" fill-opacity="0.9"/>
<rect x="285.18" y="124.71" width="2.62" height="2.62" fill="#43BF71" fill-opacity="0.9"/>
<rect x="282.25" y="127.01" width="2.62" height="2.62" fill="#43BF71" fill-opacity="0.9"/>
<rect x="279.44" y="95.25" width="2.62" height="2.62" fill="#43BF71" fill-opacity="0.9"/>
<rect x="272.47" y="86.30" width="2.62" height="2.62" fill="#43BF71" fill-opacity="0.9"/>
<rect x="278.71" y="119.18" width="2.62" height="2.62" fill="#43BF71" fill-opacity="0.9"/>
<rect x="284.06" y="136.71" width="2.62" height="2.62" fill="#43BF71" fill-opacity="0.9"/>
<rect x="277.06" y="80.52" width="2.62" height="2.62" fill="#43BF71" fill-opacity="0.9"/>
<rect x="275.32" y="116.83" width="2.62" height="2.62" fill="#43BF71" fill-opacity="0.9"/>
<rect x="288.78" y="105.02" width="2.62" height="2.62" fill="#43BF71" fill-opacity="0.9"/>
<rect x="276.78" y="118.75" width="2.62" height="2.62" fill="#43BF71" fill-opacity="0.9"/>
<rect x="282.36" y="120.83" width="2.62" height="2.62" fill="#43BF71" fill-opacity="0.9"/>
<rect x="271.63" y="100.40" width="2.62" height="2.62" fill="#43BF71" fill-opacity="0.9"/>
<rect x="290.87" y="116.73" width="2.62" height="2.62" fill="#43BF71" fill-opacity="0.9"/>
<rect x="288.30" y="117.02" width="2.62" height="2.62" fill="#43BF71" fill-opacity="0.9"/>
<rect x="282.44" y="122.13" width="2.62" height="2.62" fill="#43BF71" fill-opacity="0.9"/>
<rect x="278.49" y="138.00" width="2.62" height="2.62" fill="#43BF71" fill-opacity="0.9"/>
<rect x="286.97" y="116.45" width="2.62" height="2.62" fill="#43BF71" fill-opacity="0.9"/>
<rect x="281.81" y="144.82" width="2.62" height="2.62" fill="#43BF71" fill-opacity="0.9"/>
<rect x="273.36" y="131.71" width="2.62" height="2.62" fill="#43BF71" fill-opacity="0.9"/>
<rect x="289.22" y="144.81" width="2.62" height="2.62" fill="#43BF71" fill-opacity="0.9"/>
<rect x="291.69" y="103.85" width="2.62" height="2.62" fill="#43BF71" fill-opacity="0.9"/>
<rect x="286.89" y="111.68" width="2.62" height="2.62" fill="#43BF71" fill-opacity="0.9"/>
<rect x="286.95" y="120.62" width="2.62" height="2.62" fill="#43BF71" fill-opacity="0.9"/>
<rect x="287.45" y="106.23" width="2.62" height="2.62" fill="#43BF71" fill-opacity="0.9"/>
<rect x="282.01" y="126.95" width="2.62" height="2.62" fill="#43BF71" fill-opacity="0.9"/>
<rect x="284.83" y="133.38" width="2.62" height="2.62" fill="#43BF71" fill-opacity="0.9"/>
<rect x="294.59" y="101.82" width="2.62" height="2.62" fill="#43BF71" fill-opacity="0.9"/>
<rect x="281.30" y="89.16" width="2.62" height="2.62" fill="#43BF71" fill-opacity="0.9"/>
<rect x="285.41" y="145.15" width="2.62" height="2.62" fill="#43BF71" fill-opacity="0.9"/>
<rect x="282.18" y="138.18" width="2.62" height="2.62" fill="#43BF71" fill-opacity="0.9"/>
<rect x="296.18" y="125.19" width="2.62" height="2.62" fill="#43BF71" fill-opacity="0.9"/>
<rect x="297.30" y="87.57" width="2.62" height="2.62" fill="#43BF71" fill-opacity="0.9"/>
<rect x="296.80" y="89.75" width="2.62" height="2.62" fill="#43BF71" fill-opacity="0.9"/>
<rect x="284.55" y="73.75" width="2.62" height="2.62" fill="#43BF71" fill-opacity="0.9"/>
<rect x="283.04" y="71.73" width="2.62" height="2.62" fill="#43BF71" fill-opacity="0.9"/>
<rect x="300.16" y="81.33" width="2.62" height="2.62" fill="#43BF71" fill-opacity="0.9"/>
<rect x="283.61" y="72.07" width="2.62" height="2.62" fill="#43BF71" fill-opacity="0.9"/>
<rect x="300.17" y="69.73" width="2.62" height="2.62" fill="#43BF71" fill-opacity="0.9"/>
<rect x="286.58" y="82.69" width="2.62" height="2.62" fill="#43BF71" fill-opacity="0.9"/>
<rect x="300.80" y="89.20" width="2.62" height="2.62" fill="#43BF71" fill-opacity="0.9"/>
<rect x="286.64" y="68.50" width="2.62" height="2.62" fill="#43BF71" fill-opacity="0.9"/>
<rect x="310.82" y="143.31" width="2.62" height="2.62" fill="#43BF71" fill-opacity="0.9"/>
<rect x="307.50" y="121.25" width="2.62" height="2.62" fill="#43BF71" fill-opacity="0.9"/>
<rect x="278.65" y="123.06" width="2.62" height="2.62" fill="#43BF71" fill-opacity="0.9"/>
<rect x="298.05" y="115.33" width="2.62" height="2.62" fill="#43BF71" fill-opacity="0.9"/>
<rect x="317.50" y="104.59" width="2.62" height="2.62" fill="#43BF71" fill-opacity="0.9"/>
<rect x="309.47" y="157.66" width="2.62" height="2.62" fill="#43BF71" fill-opacity="0.9"/>
<rect x="328.31" y="156.44" width="2.62" height="2.62" fill="#43BF71" fill-opacity="0.9"/>
<rect x="326.82" y="108.53" width="2.62" height="2.62" fill="#43BF71" fill-opacity="0.9"/>
<rect x="308.56" y="123.01" width="2.62" height="2.62" fill="#43BF71" fill-opacity="0.9"/>
<rect x="324.86" y="151.13" width="2.62" height="2.62" fill="#43BF71" fill-opacity="0.9"/>
<rect x="311.09" y="98.79" width="2.62" height="2.62" fill="#43BF71" fill-opacity="0.9"/>
<rect x="328.30" y="145.64" width="2.62" height="2.62" fill="#43BF71" fill-opacity="0.9"/>
<rect x="342.01" y="121.23" width="2.62" height="2.62" fill="#43BF71" fill-opacity="0.9"/>
<rect x="306.00" y="106.82" width="2.62" height="2.62" fill="#43BF71" fill-opacity="0.9"/>
<rect x="306.52" y="128.48" width="2.62" height="2.62" fill="#43BF71" fill-opacity="0.9"/>
<rect x="302.61" y="134.49" width="2.62" height="2.62" fill="#43BF71" fill-opacity="0.9"/>
<rect x="273.87" y="128.83" width="2.62" height="2.62" fill="#43BF71" fill-opacity="0.9"/>
<rect x="332.07" y="109.54" width="2.62" height="2.62" fill="#43BF71" fill-opacity="0.9"/>
<rect x="313.79" y="43.49" width="2.62" height="2.62" fill="#43BF71" fill-opacity="0.9"/>
<rect x="325.69" y="66.69" width="2.62" height="2.62" fill="#43BF71" fill-opacity="0.9"/>
<rect x="335.69" y="98.69" width="2.62" height="2.62" fill="#43BF71" fill-opacity="0.9"/>
<rect x="366.59" y="198.89" width="2.62" height="2.62" fill="#43BF71" fill-opacity="0.9"/>
<rect x="271.09" y="148.49" width="2.62" height="2.62" fill="#43BF71" fill-opacity="0.9"/>
<rect x="264.69" y="123.69" width="2.62" height="2.62" fill="#43BF71" fill-opacity="0.9"/>
<rect x="268.29" y="99.59" width="2.62" height="2.62" fill="#43BF71" fill-opacity="0.9"/>
<rect x="272.89" y="77.39" width="2.62" height="2.62" fill="#43BF71" fill-opacity="0.9"/>
<rect x="290.59" y="59.99" width="2.62" height="2.62" fill="#43BF71" fill-opacity="0.9"/>
<rect x="289.61" y="68.75" width="2.62" height="2.62" fill="#43BF71" fill-opacity="0.9"/>
<rect x="282.43" y="74.49" width="2.62" height="2.62" fill="#43BF71" fill-opacity="0.9"/>
<rect x="287.21" y="74.02" width="2.62" height="2.62" fill="#43BF71" fill-opacity="0.9"/>
<rect x="278.59" y="86.95" width="2.62" height="2.62" fill="#43BF71" fill-opacity="0.9"/>
<rect x="283.38" y="86.95" width="2.62" height="2.62" fill="#43BF71" fill-opacity="0.9"/>
<rect x="282.43" y="89.82" width="2.62" height="2.62" fill="#43BF71" fill-opacity="0.9"/>
<rect x="285.30" y="91.74" width="2.62" height="2.62" fill="#43BF71" fill-opacity="0.9"/>
<rect x="288.17" y="94.13" width="2.62" height="2.62" fill="#43BF71" fill-opacity="0.9"/>
<rect x="292.96" y="93.17" width="2.62" height="2.62" fill="#43BF71" fill-opacity="0.9"/>
<rect x="287.21" y="97.00" width="2.62" height="2.62" fill="#43BF71" fill-opacity="0.9"/>
<rect x="290.09" y="98.92" width="2.62" height="2.62" fill="#43BF71" fill-opacity="0.9"/>
<rect x="290.09" y="102.75" width="2.62" height="2.62" fill="#43BF71" fill-opacity="0.9"/>
<rect x="274.76" y="97.00" width="2.62" height="2.62" fill="#43BF71" fill-opacity="0.9"/>
<rect x="282.43" y="97.96" width="2.62" height="2.62" fill="#43BF71" fill-opacity="0.9"/>
<rect x="297.75" y="85.51" width="2.62" height="2.62" fill="#43BF71" fill-opacity="0.9"/>
<rect x="299.67" y="90.30" width="2.62" height="2.62" fill="#43BF71" fill-opacity="0.9"/>
<rect x="290.99" y="103.63" width="2.62" height="2.62" fill="#43BF71" fill-opacity="0.9"/>
<rect x="299.03" y="111.68" width="2.62" height="2.62" fill="#43BF71" fill-opacity="0.9"/>
<rect x="303.63" y="107.08" width="2.62" height="2.62" fill="#43BF71" fill-opacity="0.9"/>
<rect x="305.36" y="105.93" width="2.62" height="2.62" fill="#43BF71" fill-opacity="0.9"/>
<rect x="313.98" y="113.98" width="2.62" height="2.62" fill="#43BF71" fill-opacity="0.9"/>
<rect x="305.93" y="125.47" width="2.62" height="2.62" fill="#43BF71" fill-opacity="0.9"/>
<rect x="292.14" y="131.22" width="2.62" height="2.62" fill="#43BF71" fill-opacity="0.9"/>
<rect x="311.10" y="139.84" width="2.62" height="2.62" fill="#43BF71" fill-opacity="0.9"/>
<rect x="290.99" y="143.86" width="2.62" height="2.62" fill="#43BF71" fill-opacity="0.9"/>
<rect x="326.62" y="142.71" width="2.62" height="2.62" fill="#43BF71" fill-opacity="0.9"/>
<rect x="334.09" y="140.99" width="2.62" height="2.62" fill="#43BF71" fill-opacity="0.9"/>
<rect x="264.10" y="138.06" width="2.50" height="2.50" fill="none" stroke="#440154" stroke-width="0.72" stroke-opacity="0.75"/>
<rect x="276.86" y="147.89" width="2.50" height="2.50" fill="none" stroke="#440154" stroke-width="0.72" stroke-opacity="0.75"/>
<rect x="285.13" y="148.75" width="2.50" height="2.50" fill="none" stroke="#440154" stroke-width="0.72" stroke-opacity="0.75"/>
<rect x="285.13" y="152.20" width="2.50" height="2.50" fill="none" stroke="#440154" stroke-width="0.72" stroke-opacity="0.75"/>
<rect x="303.75" y="150.48" width="2.50" height="2.50" fill="none" stroke="#440154" stroke-width="0.72" stroke-opacity="0.75"/>
<rect x="304.10" y="155.65" width="2.50" height="2.50" fill="none" stroke="#440154" stroke-width="0.72" stroke-opacity="0.75"/>
<rect x="313.58" y="162.55" width="2.50" height="2.50" fill="none" stroke="#440154" stroke-width="0.72" stroke-opacity="0.75"/>
<rect x="276.17" y="165.13" width="2.50" height="2.50" fill="none" stroke="#440154" stroke-width="0.72" stroke-opacity="0.75"/>
<rect x="267.89" y="165.13" width="2.50" height="2.50" fill="none" stroke="#440154" stroke-width="0.72" stroke-opacity="0.75"/>
<rect x="262.72" y="167.72" width="2.50" height="2.50" fill="none" stroke="#440154" stroke-width="0.72" stroke-opacity="0.75"/>
<rect x="266.17" y="169.44" width="2.50" height="2.50" fill="none" stroke="#440154" stroke-width="0.72" stroke-opacity="0.75"/>
<rect x="258.41" y="173.75" width="2.50" height="2.50" fill="none" stroke="#440154" stroke-width="0.72" stroke-opacity="0.75"/>
<rect x="259.27" y="176.34" width="2.50" height="2.50" fill="none" stroke="#440154" stroke-width="0.72" stroke-opacity="0.75"/>
<rect x="260.99" y="178.06" width="2.50" height="2.50" fill="none" stroke="#440154" stroke-width="0.72" stroke-opacity="0.75"/>
<rect x="255.82" y="178.92" width="2.50" height="2.50" fill="none" stroke="#440154" stroke-width="0.72" stroke-opacity="0.75"/>
<rect x="275.30" y="174.61" width="2.50" height="2.50" fill="none" stroke="#440154" stroke-width="0.72" stroke-opacity="0.75"/>
<rect x="306.68" y="133.23" width="2.50" height="2.50" fill="none" stroke="#440154" stroke-width="0.72" stroke-opacity="0.75"/>
<rect x="308.41" y="133.23" width="2.50" height="2.50" fill="none" stroke="#440154" stroke-width="0.72" stroke-opacity="0.75"/>
<rect x="312.72" y="132.89" width="2.50" height="2.50" fill="none" stroke="#440154" stroke-width="0.72" stroke-opacity="0.75"/>
<rect x="309.27" y="120.30" width="2.50" height="2.50" fill="none" stroke="#440154" stroke-width="0.72" stroke-opacity="0.75"/>
<rect x="314.44" y="120.30" width="2.50" height="2.50" fill="none" stroke="#440154" stroke-width="0.72" stroke-opacity="0.75"/>
<rect x="317.03" y="108.23" width="2.50" height="2.50" fill="none" stroke="#440154" stroke-width="0.72" stroke-opacity="0.75"/>
<rect x="300.65" y="109.10" width="2.50" height="2.50" fill="none" stroke="#440154" stroke-width="0.72" stroke-opacity="0.75"/>
<rect x="298.92" y="115.99" width="2.50" height="2.50" fill="none" stroke="#440154" stroke-width="0.72" stroke-opacity="0.75"/>
<rect x="300.65" y="116.86" width="2.50" height="2.50" fill="none" stroke="#440154" stroke-width="0.72" stroke-opacity="0.75"/>
<rect x="287.72" y="111.68" width="2.50" height="2.50" fill="none" stroke="#440154" stroke-width="0.72" stroke-opacity="0.75"/>
<rect x="284.27" y="114.61" width="2.50" height="2.50" fill="none" stroke="#440154" stroke-width="0.72" stroke-opacity="0.75"/>
<rect x="282.55" y="121.17" width="2.50" height="2.50" fill="none" stroke="#440154" stroke-width="0.72" stroke-opacity="0.75"/>
<rect x="278.23" y="142.72" width="2.50" height="2.50" fill="none" stroke="#440154" stroke-width="0.72" stroke-opacity="0.75"/>
<rect x="298.65" y="72.65" width="2.50" height="2.50" fill="none" stroke="#440154" stroke-width="0.72" stroke-opacity="0.75"/>
<rect x="328.55" y="87.65" width="2.50" height="2.50" fill="none" stroke="#440154" stroke-width="0.72" stroke-opacity="0.75"/>
<rect x="336.25" y="110.75" width="2.50" height="2.50" fill="none" stroke="#440154" stroke-width="0.72" stroke-opacity="0.75"/>
<rect x="339.05" y="165.15" width="2.50" height="2.50" fill="none" stroke="#440154" stroke-width="0.72" stroke-opacity="0.75"/>
<rect x="254.05" y="179.45" width="2.50" height="2.50" fill="none" stroke="#440154" stroke-width="0.72" stroke-opacity="0.75"/>
<rect x="251.55" y="174.65" width="2.50" height="2.50" fill="none" stroke="#440154" stroke-width="0.72" stroke-opacity="0.75"/>
<rect x="272.15" y="105.65" width="2.50" height="2.50" fill="none" stroke="#440154" stroke-width="0.72" stroke-opacity="0.75"/>
<rect x="295.65" y="95.65" width="2.50" height="2.50" fill="none" stroke="#440154" stroke-width="0.72" stroke-opacity="0.75"/>
<rect x="311.17" y="98.52" width="2.50" height="2.50" fill="none" stroke="#440154" stroke-width="0.72" stroke-opacity="0.75"/>
<rect x="316.34" y="108.29" width="2.50" height="2.50" fill="none" stroke="#440154" stroke-width="0.72" stroke-opacity="0.75"/>
<rect x="315.19" y="119.79" width="2.50" height="2.50" fill="none" stroke="#440154" stroke-width="0.72" stroke-opacity="0.75"/>
<rect x="309.44" y="120.36" width="2.50" height="2.50" fill="none" stroke="#440154" stroke-width="0.72" stroke-opacity="0.75"/>
<rect x="307.14" y="133.00" width="2.50" height="2.50" fill="none" stroke="#440154" stroke-width="0.72" stroke-opacity="0.75"/>
<rect x="312.32" y="132.43" width="2.50" height="2.50" fill="none" stroke="#440154" stroke-width="0.72" stroke-opacity="0.75"/>
<rect x="318.64" y="135.88" width="2.50" height="2.50" fill="none" stroke="#440154" stroke-width="0.72" stroke-opacity="0.75"/>
<rect x="315.19" y="141.05" width="2.50" height="2.50" fill="none" stroke="#440154" stroke-width="0.72" stroke-opacity="0.75"/>
<rect x="300.25" y="109.44" width="2.50" height="2.50" fill="none" stroke="#440154" stroke-width="0.72" stroke-opacity="0.75"/>
<rect x="277.49" y="147.95" width="2.50" height="2.50" fill="none" stroke="#440154" stroke-width="0.72" stroke-opacity="0.75"/>
<rect x="285.53" y="148.52" width="2.50" height="2.50" fill="none" stroke="#440154" stroke-width="0.72" stroke-opacity="0.75"/>
<rect x="285.30" y="151.97" width="2.50" height="2.50" fill="none" stroke="#440154" stroke-width="0.72" stroke-opacity="0.75"/>
<rect x="303.92" y="150.25" width="2.50" height="2.50" fill="none" stroke="#440154" stroke-width="0.72" stroke-opacity="0.75"/>
<rect x="304.50" y="155.76" width="2.50" height="2.50" fill="none" stroke="#440154" stroke-width="0.72" stroke-opacity="0.75"/>
<rect x="268.29" y="165.19" width="2.50" height="2.50" fill="none" stroke="#440154" stroke-width="0.72" stroke-opacity="0.75"/>
<rect x="263.12" y="168.06" width="2.50" height="2.50" fill="none" stroke="#440154" stroke-width="0.72" stroke-opacity="0.75"/>
<rect x="267.14" y="169.79" width="2.50" height="2.50" fill="none" stroke="#440154" stroke-width="0.72" stroke-opacity="0.75"/>
<rect x="276.34" y="165.42" width="2.50" height="2.50" fill="none" stroke="#440154" stroke-width="0.72" stroke-opacity="0.75"/>
<rect x="257.95" y="173.23" width="2.50" height="2.50" fill="none" stroke="#440154" stroke-width="0.72" stroke-opacity="0.75"/>
<rect x="260.25" y="175.53" width="2.50" height="2.50" fill="none" stroke="#440154" stroke-width="0.72" stroke-opacity="0.75"/>
<rect x="251.05" y="174.38" width="2.50" height="2.50" fill="none" stroke="#440154" stroke-width="0.72" stroke-opacity="0.75"/>
<rect x="253.92" y="178.98" width="2.50" height="2.50" fill="none" stroke="#440154" stroke-width="0.72" stroke-opacity="0.75"/>
<rect x="258.52" y="178.41" width="2.50" height="2.50" fill="none" stroke="#440154" stroke-width="0.72" stroke-opacity="0.75"/>
<rect x="275.76" y="174.96" width="2.50" height="2.50" fill="none" stroke="#440154" stroke-width="0.72" stroke-opacity="0.75"/>
<path d="M349.93,124.64L351.86,126.57L349.93,128.51L347.99,126.57Z" fill="#BBDF27" fill-opacity="0.95"/>
<path d="M334.27,123.03L336.21,124.96L334.27,126.90L332.34,124.96Z" fill="#BBDF27" fill-opacity="0.95"/>
<path d="M352.69,138.68L354.62,140.62L352.69,142.55L350.75,140.62Z" fill="#BBDF27" fill-opacity="0.95"/>
<path d="M359.59,140.75L361.53,142.69L359.59,144.62L357.66,142.69Z" fill="#BBDF27" fill-opacity="0.95"/>
<path d="M343.02,153.65L344.95,155.58L343.02,157.51L341.09,155.58Z" fill="#BBDF27" fill-opacity="0.95"/>
<path d="M346.47,156.87L348.41,158.80L346.47,160.74L344.54,158.80Z" fill="#BBDF27" fill-opacity="0.95"/>
<path d="M363.28,167.46L365.21,169.39L363.28,171.33L361.34,169.39Z" fill="#BBDF27" fill-opacity="0.95"/>
<path d="M344.86,169.76L346.80,171.69L344.86,173.63L342.93,171.69Z" fill="#BBDF27" fill-opacity="0.95"/>
<path d="M343.71,173.67L345.65,175.61L343.71,177.54L341.78,175.61Z" fill="#BBDF27" fill-opacity="0.95"/>
<path d="M351.08,182.88L353.01,184.82L351.08,186.75L349.14,184.82Z" fill="#BBDF27" fill-opacity="0.95"/>
<path d="M375.71,190.48L377.64,192.41L375.71,194.35L373.77,192.41Z" fill="#BBDF27" fill-opacity="0.95"/>
<path d="M360.98,210.51L362.91,212.44L360.98,214.37L359.04,212.44Z" fill="#BBDF27" fill-opacity="0.95"/>
<path d="M331.97,136.15L333.90,138.08L331.97,140.02L330.04,138.08Z" fill="#BBDF27" fill-opacity="0.95"/>
<path d="M334.40,68.87L336.33,70.80L334.40,72.73L332.47,70.80Z" fill="#BBDF27" fill-opacity="0.95"/>
<path d="M351.60,90.47L353.53,92.40L351.60,94.33L349.67,92.40Z" fill="#BBDF27" fill-opacity="0.95"/>
<path d="M405.20,175.47L407.13,177.40L405.20,179.33L403.27,177.40Z" fill="#BBDF27" fill-opacity="0.95"/>
<path d="M396.00,223.17L397.93,225.10L396.00,227.03L394.07,225.10Z" fill="#BBDF27" fill-opacity="0.95"/>
<path d="M272.40,191.97L274.33,193.90L272.40,195.83L270.47,193.90Z" fill="#BBDF27" fill-opacity="0.95"/>
<path d="M251.60,113.27L253.53,115.20L251.60,117.13L249.67,115.20Z" fill="#BBDF27" fill-opacity="0.95"/>
<path d="M334.25,123.12L336.19,125.06L334.25,126.99L332.32,125.06Z" fill="#BBDF27" fill-opacity="0.95"/>
<path d="M326.78,115.08L328.72,117.01L326.78,118.95L324.85,117.01Z" fill="#BBDF27" fill-opacity="0.95"/>
<path d="M314.14,117.95L316.07,119.89L314.14,121.82L312.20,119.89Z" fill="#BBDF27" fill-opacity="0.95"/>
<path d="M314.71,129.44L316.65,131.38L314.71,133.31L312.78,131.38Z" fill="#BBDF27" fill-opacity="0.95"/>
<path d="M318.74,123.70L320.67,125.63L318.74,127.57L316.80,125.63Z" fill="#BBDF27" fill-opacity="0.95"/>
<path d="M332.53,135.77L334.46,137.70L332.53,139.64L330.59,137.70Z" fill="#BBDF27" fill-opacity="0.95"/>
<path d="M335.98,95.54L337.91,97.47L335.98,99.41L334.04,97.47Z" fill="#BBDF27" fill-opacity="0.95"/>
<path d="M349.20,124.85L351.13,126.78L349.20,128.72L347.26,126.78Z" fill="#BBDF27" fill-opacity="0.95"/>
<path d="M275.29,162.78L277.22,164.71L275.29,166.65L273.35,164.71Z" fill="#BBDF27" fill-opacity="0.95"/>
<path d="M304.02,172.55L305.96,174.48L304.02,176.42L302.09,174.48Z" fill="#BBDF27" fill-opacity="0.95"/>
<path d="M294.25,162.78L296.19,164.71L294.25,166.65L292.32,164.71Z" fill="#BBDF27" fill-opacity="0.95"/>
<path d="M331.00,38.38L332.62,40.00L331.00,41.62L329.38,40.00Z" fill="none" stroke="#21908C" stroke-width="0.72" stroke-opacity="0.95"/>
<path d="M341.30,48.68L342.92,50.30L341.30,51.92L339.68,50.30Z" fill="none" stroke="#21908C" stroke-width="0.72" stroke-opacity="0.95"/>
<path d="M340.70,70.58L342.32,72.20L340.70,73.82L339.08,72.20Z" fill="none" stroke="#21908C" stroke-width="0.72" stroke-opacity="0.95"/>
<path d="M335.60,94.68L337.22,96.30L335.60,97.92L333.98,96.30Z" fill="none" stroke="#21908C" stroke-width="0.72" stroke-opacity="0.95"/>
<path d="M305.00,148.38L306.62,150.00L305.00,151.62L303.38,150.00Z" fill="none" stroke="#21908C" stroke-width="0.72" stroke-opacity="0.95"/>
<path d="M273.40,145.38L275.02,147.00L273.40,148.62L271.78,147.00Z" fill="none" stroke="#21908C" stroke-width="0.72" stroke-opacity="0.95"/>
<path d="M300.00,108.38L301.62,110.00L300.00,111.62L298.38,110.00Z" fill="none" stroke="#21908C" stroke-width="0.72" stroke-opacity="0.95"/>
<path d="M326.40,98.38L328.02,100.00L326.40,101.62L324.78,100.00Z" fill="none" stroke="#21908C" stroke-width="0.72" stroke-opacity="0.95"/>
<path d="M328.70,67.08L330.32,68.70L328.70,70.32L327.08,68.70Z" fill="none" stroke="#21908C" stroke-width="0.72" stroke-opacity="0.95"/>
<path d="M315.93,110.71L317.55,112.33L315.93,113.95L314.30,112.33Z" fill="none" stroke="#21908C" stroke-width="0.72" stroke-opacity="0.95"/>
<path d="M323.49,109.33L325.11,110.96L323.49,112.58L321.87,110.96Z" fill="none" stroke="#21908C" stroke-width="0.72" stroke-opacity="0.95"/>
<path d="M321.05,113.44L322.68,115.07L321.05,116.69L319.43,115.07Z" fill="none" stroke="#21908C" stroke-width="0.72" stroke-opacity="0.95"/>
<path d="M304.88,140.72L306.50,142.34L304.88,143.97L303.26,142.34Z" fill="none" stroke="#21908C" stroke-width="0.72" stroke-opacity="0.95"/>
<path d="M336.05,83.71L337.67,85.33L336.05,86.95L334.43,85.33Z" fill="none" stroke="#21908C" stroke-width="0.72" stroke-opacity="0.95"/>
<path d="M304.55,111.37L306.18,112.99L304.55,114.62L302.93,112.99Z" fill="none" stroke="#21908C" stroke-width="0.72" stroke-opacity="0.95"/>
<circle cx="295.10" cy="46.30" r="1.31" fill="none" stroke="#482576" stroke-width="0.72" stroke-opacity="0.95"/>
<circle cx="299.00" cy="62.00" r="1.31" fill="none" stroke="#482576" stroke-width="0.72" stroke-opacity="0.95"/>
<circle cx="290.00" cy="105.00" r="1.31" fill="none" stroke="#482576" stroke-width="0.72" stroke-opacity="0.95"/>
<circle cx="280.00" cy="118.00" r="1.31" fill="none" stroke="#482576" stroke-width="0.72" stroke-opacity="0.95"/>
<circle cx="284.00" cy="95.00" r="1.31" fill="none" stroke="#482576" stroke-width="0.72" stroke-opacity="0.95"/>
<circle cx="291.78" cy="114.91" r="1.31" fill="none" stroke="#482576" stroke-width="0.72" stroke-opacity="0.95"/>
<circle cx="279.51" cy="110.72" r="1.31" fill="none" stroke="#482576" stroke-width="0.72" stroke-opacity="0.95"/>
<circle cx="275.39" cy="152.66" r="1.31" fill="none" stroke="#482576" stroke-width="0.72" stroke-opacity="0.95"/>
<circle cx="280.38" cy="121.56" r="1.31" fill="none" stroke="#482576" stroke-width="0.72" stroke-opacity="0.95"/>
<circle cx="286.37" cy="161.81" r="1.31" fill="none" stroke="#482576" stroke-width="0.72" stroke-opacity="0.95"/>
<circle cx="286.45" cy="144.73" r="1.31" fill="none" stroke="#482576" stroke-width="0.72" stroke-opacity="0.95"/>
<circle cx="275.85" cy="150.27" r="1.31" fill="none" stroke="#482576" stroke-width="0.72" stroke-opacity="0.95"/>
<path d="M296.76,59.50H299.64L298.20,62.00Z" fill="none" stroke="#414487" stroke-width="0.72" stroke-opacity="0.95"/>
<path d="M300.76,60.30H303.64L302.20,62.80Z" fill="none" stroke="#414487" stroke-width="0.72" stroke-opacity="0.95"/>
<path d="M325.46,109.00H328.34L326.90,111.50Z" fill="none" stroke="#414487" stroke-width="0.72" stroke-opacity="0.95"/>
<path d="M347.56,225.50H350.44L349.00,228.00Z" fill="none" stroke="#414487" stroke-width="0.72" stroke-opacity="0.95"/>
<path d="M265.66,165.40H268.54L267.10,167.90Z" fill="none" stroke="#414487" stroke-width="0.72" stroke-opacity="0.95"/>
<path d="M269.46,142.10H272.34L270.90,144.60Z" fill="none" stroke="#414487" stroke-width="0.72" stroke-opacity="0.95"/>
<path d="M295.24,126.15H298.11L296.68,128.65Z" fill="none" stroke="#414487" stroke-width="0.72" stroke-opacity="0.95"/>
<path d="M294.79,91.39H297.66L296.23,93.88Z" fill="none" stroke="#414487" stroke-width="0.72" stroke-opacity="0.95"/>
<path d="M282.05,170.63H284.92L283.48,173.12Z" fill="none" stroke="#414487" stroke-width="0.72" stroke-opacity="0.95"/>
<path d="M285.53,149.31H288.40L286.97,151.81Z" fill="none" stroke="#414487" stroke-width="0.72" stroke-opacity="0.95"/>
<path d="M278.90,166.20H281.78L280.34,168.69Z" fill="none" stroke="#414487" stroke-width="0.72" stroke-opacity="0.95"/>
<path d="M297.37,162.48H300.24L298.81,164.97Z" fill="none" stroke="#414487" stroke-width="0.72" stroke-opacity="0.95"/>
<path d="M318.88,58.00H322.12M320.50,56.38V59.62" stroke="#35608D" stroke-width="0.72" stroke-opacity="0.95"/>
<path d="M321.38,60.00H324.62M323.00,58.38V61.62" stroke="#35608D" stroke-width="0.72" stroke-opacity="0.95"/>
<path d="M320.98,224.50H324.22M322.60,222.88V226.12" stroke="#35608D" stroke-width="0.72" stroke-opacity="0.95"/>
<path d="M315.58,220.70H318.82M317.20,219.08V222.32" stroke="#35608D" stroke-width="0.72" stroke-opacity="0.95"/>
<path d="M316.88,100.00H320.12M318.50,98.38V101.62" stroke="#35608D" stroke-width="0.72" stroke-opacity="0.95"/>
<path d="M318.38,120.00H321.62M320.00,118.38V121.62" stroke="#35608D" stroke-width="0.72" stroke-opacity="0.95"/>
<path d="M318.38,150.00H321.62M320.00,148.38V151.62" stroke="#35608D" stroke-width="0.72" stroke-opacity="0.95"/>
<path d="M319.38,180.00H322.62M321.00,178.38V181.62" stroke="#35608D" stroke-width="0.72" stroke-opacity="0.95"/>
<path d="M317.38,200.00H320.62M319.00,198.38V201.62" stroke="#35608D" stroke-width="0.72" stroke-opacity="0.95"/>
<circle cx="278.80" cy="62.30" r="0.94" fill="#FDE725" fill-opacity="0.95"/>
<circle cx="296.20" cy="108.90" r="0.94" fill="#FDE725" fill-opacity="0.95"/>
<circle cx="297.10" cy="140.00" r="0.94" fill="#FDE725" fill-opacity="0.95"/>
<circle cx="296.50" cy="203.50" r="0.94" fill="#FDE725" fill-opacity="0.95"/>
<circle cx="279.30" cy="120.00" r="0.94" fill="#FDE725" fill-opacity="0.95"/>
<circle cx="287.00" cy="140.00" r="0.94" fill="#FDE725" fill-opacity="0.95"/>
<circle cx="290.00" cy="170.00" r="0.94" fill="#FDE725" fill-opacity="0.95"/>
<path d="M313.11,54.91L315.49,57.29M313.11,57.29L315.49,54.91" stroke="#2A788E" stroke-width="0.72" stroke-opacity="0.95"/>
<path d="M319.41,73.31L321.79,75.69M319.41,75.69L321.79,73.31" stroke="#2A788E" stroke-width="0.72" stroke-opacity="0.95"/>
<path d="M328.81,98.81L331.19,101.19M328.81,101.19L331.19,98.81" stroke="#2A788E" stroke-width="0.72" stroke-opacity="0.95"/>
<path d="M324.71,181.01L327.09,183.39M324.71,183.39L327.09,181.01" stroke="#2A788E" stroke-width="0.72" stroke-opacity="0.95"/>
<path d="M269.71,150.51L272.09,152.89M269.71,152.89L272.09,150.51" stroke="#2A788E" stroke-width="0.72" stroke-opacity="0.95"/>
<path d="M300.81,98.81L303.19,101.19M300.81,101.19L303.19,98.81" stroke="#2A788E" stroke-width="0.72" stroke-opacity="0.95"/>
<path d="M312.55,133.83L314.92,136.20M312.55,136.20L314.92,133.83" stroke="#2A788E" stroke-width="0.72" stroke-opacity="0.95"/>
<path d="M290.29,122.65L292.66,125.02M290.29,125.02L292.66,122.65" stroke="#2A788E" stroke-width="0.72" stroke-opacity="0.95"/>
<path d="M281.63,145.34L284.00,147.71M281.63,147.71L284.00,145.34" stroke="#2A788E" stroke-width="0.72" stroke-opacity="0.95"/>
<path d="M283.40,129.91L285.78,132.28M283.40,132.28L285.78,129.91" stroke="#2A788E" stroke-width="0.72" stroke-opacity="0.95"/>
<path d="M295.66,70.30H298.54L297.10,67.80Z" fill="none" stroke="#22A884" stroke-width="0.72" stroke-opacity="0.95"/>
<path d="M319.16,75.50H322.04L320.60,73.00Z" fill="none" stroke="#22A884" stroke-width="0.72" stroke-opacity="0.95"/>
<path d="M338.16,111.00H341.04L339.60,108.50Z" fill="none" stroke="#22A884" stroke-width="0.72" stroke-opacity="0.95"/>
<path d="M347.36,141.60H350.24L348.80,139.10Z" fill="none" stroke="#22A884" stroke-width="0.72" stroke-opacity="0.95"/>
<path d="M318.56,171.00H321.44L320.00,168.50Z" fill="none" stroke="#22A884" stroke-width="0.72" stroke-opacity="0.95"/>
<path d="M283.56,131.00H286.44L285.00,128.50Z" fill="none" stroke="#22A884" stroke-width="0.72" stroke-opacity="0.95"/>
<path d="M308.86,125.79H311.73L310.29,123.29Z" fill="none" stroke="#22A884" stroke-width="0.72" stroke-opacity="0.95"/>
<path d="M322.99,102.19H325.86L324.42,99.70Z" fill="none" stroke="#22A884" stroke-width="0.72" stroke-opacity="0.95"/>
<path d="M300.02,107.41H302.89L301.45,104.92Z" fill="none" stroke="#22A884" stroke-width="0.72" stroke-opacity="0.95"/>
<path d="M332.24,147.75H335.11L333.68,145.25Z" fill="none" stroke="#22A884" stroke-width="0.72" stroke-opacity="0.95"/>
<circle cx="300.00" cy="75.00" r="1.31" fill="#7AD151" fill-opacity="0.95"/>
<circle cx="330.00" cy="100.00" r="1.31" fill="#7AD151" fill-opacity="0.95"/>
<circle cx="333.00" cy="150.00" r="1.31" fill="#7AD151" fill-opacity="0.95"/>
<circle cx="322.00" cy="188.00" r="1.31" fill="#7AD151" fill-opacity="0.95"/>
<circle cx="292.00" cy="150.00" r="1.31" fill="#7AD151" fill-opacity="0.95"/>
<circle cx="285.00" cy="110.00" r="1.31" fill="#7AD151" fill-opacity="0.95"/>
<circle cx="317.54" cy="146.89" r="1.31" fill="#7AD151" fill-opacity="0.95"/>
<circle cx="312.21" cy="106.54" r="1.31" fill="#7AD151" fill-opacity="0.95"/>
<circle cx="303.90" cy="133.02" r="1.31" fill="#7AD151" fill-opacity="0.95"/>
<circle cx="311.08" cy="126.77" r="1.31" fill="#7AD151" fill-opacity="0.95"/>
<circle cx="310.82" cy="157.45" r="1.31" fill="#7AD151" fill-opacity="0.95"/>
<circle cx="307.37" cy="132.10" r="1.31" fill="#7AD151" fill-opacity="0.95"/>
<circle cx="325.07" cy="100.46" r="1.31" fill="#7AD151" fill-opacity="0.95"/>
<circle cx="312.07" cy="130.57" r="1.31" fill="#7AD151" fill-opacity="0.95"/>
</g>
<rect x="241.5" y="0.6" width="173.7" height="241.35" fill="none" stroke="#CECECE" stroke-width="1.2"/>
<path d="M249.35,241.95v2.2M302.00,241.95v2.2M354.65,241.95v2.2M407.30,241.95v2.2M241.5,231.10h-2.2M241.5,176.15h-2.2M241.5,121.20h-2.2M241.5,66.25h-2.2M241.5,11.30h-2.2" stroke="#CECECE" stroke-width="0.8"/>
<g font-size="8.20" letter-spacing="-0.55" fill="#4D4D4D" stroke="#4D4D4D" stroke-width="0.04"><text x="248.25" y="249.45" text-anchor="middle">-0.5</text><text x="302.00" y="249.45" text-anchor="middle">0.0</text><text x="354.65" y="249.45" text-anchor="middle">0.5</text><text x="407.30" y="249.45" text-anchor="middle">1.0</text><text x="238.35" y="233.15" text-anchor="end">-0.4</text><text x="238.35" y="178.20" text-anchor="end">-0.2</text><text x="238.35" y="123.25" text-anchor="end">0.0</text><text x="238.35" y="68.30" text-anchor="end">0.2</text><text x="238.35" y="13.35" text-anchor="end">0.4</text></g>
<text x="329.95" y="256.55" text-anchor="middle" font-size="8.40" fill="#000">PC1</text>
<text transform="translate(225.80,119.57) rotate(-90)" text-anchor="middle" font-size="8.40" fill="#000">PC2</text>
<text x="328.35" y="12.20" text-anchor="middle" font-size="12.4" font-weight="bold" fill="#1a1a1a">Ordovician</text>
<text x="245.00" y="16.60" font-size="17.6" font-weight="bold" fill="#1a1a1a">B</text>
<rect x="381.8" y="4.3" width="70.19999999999999" height="131.1" fill="#fff"/>
<text x="384.60" y="12.90" font-size="6.7" fill="#1a1a1a">Order</text>
<rect x="385.30" y="17.70" width="8.80" height="9.55" fill="#fff" stroke="#440154" stroke-width="0.95" stroke-opacity="0.85"/>
<rect x="388.34" y="21.12" width="2.72" height="2.72" fill="none" stroke="#440154" stroke-width="0.7"/>
<text x="398.30" y="24.88" font-size="5.55" fill="#1a1a1a" stroke="#1a1a1a" stroke-width="0.05">Asaphida</text>
<rect x="385.30" y="28.25" width="8.80" height="9.55" fill="#fff" stroke="#482576" stroke-width="0.95" stroke-opacity="0.85"/>
<circle cx="389.70" cy="33.02" r="1.43" fill="none" stroke="#482576" stroke-width="0.7"/>
<text x="398.30" y="35.42" font-size="5.55" fill="#1a1a1a" stroke="#1a1a1a" stroke-width="0.05">Aulacopleurida</text>
<rect x="385.30" y="38.80" width="8.80" height="9.55" fill="#fff" stroke="#414487" stroke-width="0.95" stroke-opacity="0.85"/>
<path d="M388.14,42.49H391.26L389.70,45.21Z" fill="none" stroke="#414487" stroke-width="0.7"/>
<text x="398.30" y="45.97" font-size="5.55" fill="#1a1a1a" stroke="#1a1a1a" stroke-width="0.05">Corynexochida</text>
<rect x="385.30" y="49.35" width="8.80" height="9.55" fill="#fff" stroke="#35608D" stroke-width="0.95" stroke-opacity="0.85"/>
<path d="M387.93,54.12H391.47M389.70,52.36V55.89" stroke="#35608D" stroke-width="0.7"/>
<text x="398.30" y="56.52" font-size="5.55" fill="#1a1a1a" stroke="#1a1a1a" stroke-width="0.05">Harpida</text>
<rect x="385.30" y="59.90" width="8.80" height="9.55" fill="#fff" stroke="#2A788E" stroke-width="0.95" stroke-opacity="0.85"/>
<path d="M388.41,63.38L390.99,65.97M388.41,65.97L390.99,63.38" stroke="#2A788E" stroke-width="0.7"/>
<text x="398.30" y="67.08" font-size="5.55" fill="#1a1a1a" stroke="#1a1a1a" stroke-width="0.05">Lichida</text>
<rect x="385.30" y="70.45" width="8.80" height="9.55" fill="#fff" stroke="#21908C" stroke-width="0.95" stroke-opacity="0.85"/>
<path d="M389.70,73.46L391.47,75.23L389.70,76.99L387.93,75.23Z" fill="none" stroke="#21908C" stroke-width="0.7"/>
<text x="398.30" y="77.63" font-size="5.55" fill="#1a1a1a" stroke="#1a1a1a" stroke-width="0.05">Odontopleurida</text>
<rect x="385.30" y="81.00" width="8.80" height="9.55" fill="#fff" stroke="#22A884" stroke-width="0.95" stroke-opacity="0.85"/>
<path d="M388.14,86.86H391.26L389.70,84.14Z" fill="none" stroke="#22A884" stroke-width="0.7"/>
<text x="398.30" y="88.18" font-size="5.55" fill="#1a1a1a" stroke="#1a1a1a" stroke-width="0.05">Olenida</text>
<rect x="385.30" y="91.55" width="8.80" height="9.55" fill="#fff" stroke="#43BF71" stroke-width="0.95" stroke-opacity="0.85"/>
<rect x="388.27" y="94.90" width="2.86" height="2.86" fill="#43BF71"/>
<text x="398.30" y="98.73" font-size="5.55" fill="#1a1a1a" stroke="#1a1a1a" stroke-width="0.05">Phacopida</text>
<rect x="385.30" y="102.10" width="8.80" height="9.55" fill="#fff" stroke="#7AD151" stroke-width="0.95" stroke-opacity="0.85"/>
<circle cx="389.70" cy="106.88" r="1.43" fill="#7AD151"/>
<text x="398.30" y="109.28" font-size="5.55" fill="#1a1a1a" stroke="#1a1a1a" stroke-width="0.05">Proetida</text>
<rect x="385.30" y="112.65" width="8.80" height="9.55" fill="#fff" stroke="#BBDF27" stroke-width="0.95" stroke-opacity="0.85"/>
<path d="M389.70,115.32L391.81,117.43L389.70,119.53L387.59,117.43Z" fill="#BBDF27"/>
<text x="398.30" y="119.83" font-size="5.55" fill="#1a1a1a" stroke="#1a1a1a" stroke-width="0.05">Trinucleida</text>
<rect x="385.30" y="123.20" width="8.80" height="9.55" fill="#fff" stroke="#FDE725" stroke-width="0.95" stroke-opacity="0.85"/>
<circle cx="389.70" cy="127.98" r="1.02" fill="#FDE725"/>
<text x="398.30" y="130.38" font-size="5.55" fill="#1a1a1a" stroke="#1a1a1a" stroke-width="0.05" textLength="26" lengthAdjust="spacingAndGlyphs">Unassigned</text>
<clipPath id="clipC"><rect x="462.5" y="0.6" width="173.29999999999995" height="241.45000000000002"/></clipPath>
<path d="M496.85,0.6V242.05M549.55,0.6V242.05M602.25,0.6V242.05M462.5,203.20H635.8M462.5,148.40H635.8M462.5,93.60H635.8M462.5,38.80H635.8" stroke="#F2F2F2" stroke-width="0.5" fill="none"/>
<path d="M470.50,0.6V242.05M523.20,0.6V242.05M575.90,0.6V242.05M628.60,0.6V242.05M462.5,230.60H635.8M462.5,175.80H635.8M462.5,121.00H635.8M462.5,66.20H635.8M462.5,11.40H635.8" stroke="#EBEBEB" stroke-width="0.8" fill="none"/>
<g clip-path="url(#clipC)">
<path d="M493.7,86.4L559.8,64.2L557.0,127.0L552.7,153.3L496.1,177.7L490.0,173.6Z" fill="none" stroke="#8FD744" stroke-width="0.95" stroke-linejoin="round"/><circle cx="493.7" cy="86.4" r="0.9" fill="#8FD744"/><circle cx="559.8" cy="64.2" r="0.9" fill="#8FD744"/><circle cx="557.0" cy="127.0" r="0.9" fill="#8FD744"/><circle cx="552.7" cy="153.3" r="0.9" fill="#8FD744"/><circle cx="496.1" cy="177.7" r="0.9" fill="#8FD744"/><circle cx="490.0" cy="173.6" r="0.9" fill="#8FD744"/>
<path d="M518.4,56.0L544.4,59.6L573.3,91.0L557.9,112.4L508.5,141.2Z" fill="none" stroke="#35B779" stroke-width="0.95" stroke-linejoin="round"/><circle cx="518.4" cy="56.0" r="0.9" fill="#35B779"/><circle cx="544.4" cy="59.6" r="0.9" fill="#35B779"/><circle cx="573.3" cy="91.0" r="0.9" fill="#35B779"/><circle cx="557.9" cy="112.4" r="0.9" fill="#35B779"/><circle cx="508.5" cy="141.2" r="0.9" fill="#35B779"/>
<path d="M511.5,53.4L531.4,59.1L551.0,95.6L503.7,128.7Z" fill="none" stroke="#21908C" stroke-width="0.95" stroke-linejoin="round"/><circle cx="511.5" cy="53.4" r="0.9" fill="#21908C"/><circle cx="531.4" cy="59.1" r="0.9" fill="#21908C"/><circle cx="551.0" cy="95.6" r="0.9" fill="#21908C"/><circle cx="503.7" cy="128.7" r="0.9" fill="#21908C"/>
<path d="M520.0,88.2L528.2,85.5L537.3,86.4L558.5,146.4L515.5,103.6Z" fill="none" stroke="#440154" stroke-width="0.95" stroke-linejoin="round"/><circle cx="520.0" cy="88.2" r="0.9" fill="#440154"/><circle cx="528.2" cy="85.5" r="0.9" fill="#440154"/><circle cx="537.3" cy="86.4" r="0.9" fill="#440154"/><circle cx="558.5" cy="146.4" r="0.9" fill="#440154"/><circle cx="515.5" cy="103.6" r="0.9" fill="#440154"/>
<path d="M528.0,85.6L521.0,100.0L483.7,176.3L493.4,139.1L516.4,100.0Z" fill="none" stroke="#443A83" stroke-width="0.95" stroke-linejoin="round"/><circle cx="528.0" cy="85.6" r="0.9" fill="#443A83"/><circle cx="521.0" cy="100.0" r="0.9" fill="#443A83"/><circle cx="483.7" cy="176.3" r="0.9" fill="#443A83"/><circle cx="493.4" cy="139.1" r="0.9" fill="#443A83"/><circle cx="516.4" cy="100.0" r="0.9" fill="#443A83"/>
<path d="M520.0,88.5L558.5,160.9L546.4,167.6L518.2,145.5L510.9,102.7Z" fill="none" stroke="#FDE725" stroke-width="0.95" stroke-linejoin="round"/><circle cx="520.0" cy="88.5" r="0.9" fill="#FDE725"/><circle cx="558.5" cy="160.9" r="0.9" fill="#FDE725"/><circle cx="546.4" cy="167.6" r="0.9" fill="#FDE725"/><circle cx="518.2" cy="145.5" r="0.9" fill="#FDE725"/><circle cx="510.9" cy="102.7" r="0.9" fill="#FDE725"/>
<path d="M544.7,193.8L549.0,210.8L541.5,220.5Z" fill="none" stroke="#31688E" stroke-width="0.95" stroke-linejoin="round"/><circle cx="544.7" cy="193.8" r="0.9" fill="#31688E"/><circle cx="549.0" cy="210.8" r="0.9" fill="#31688E"/><circle cx="541.5" cy="220.5" r="0.9" fill="#31688E"/>
<path d="M493.70,84.78L495.32,86.40L493.70,88.02L492.08,86.40Z" fill="none" stroke="#8FD744" stroke-width="0.72" stroke-opacity="0.95"/>
<path d="M559.80,62.58L561.42,64.20L559.80,65.82L558.18,64.20Z" fill="none" stroke="#8FD744" stroke-width="0.72" stroke-opacity="0.95"/>
<path d="M557.00,125.38L558.62,127.00L557.00,128.62L555.38,127.00Z" fill="none" stroke="#8FD744" stroke-width="0.72" stroke-opacity="0.95"/>
<path d="M552.70,151.68L554.32,153.30L552.70,154.92L551.08,153.30Z" fill="none" stroke="#8FD744" stroke-width="0.72" stroke-opacity="0.95"/>
<path d="M496.10,176.08L497.72,177.70L496.10,179.32L494.48,177.70Z" fill="none" stroke="#8FD744" stroke-width="0.72" stroke-opacity="0.95"/>
<path d="M490.00,171.98L491.62,173.60L490.00,175.22L488.38,173.60Z" fill="none" stroke="#8FD744" stroke-width="0.72" stroke-opacity="0.95"/>
<path d="M505.88,83.74L507.50,85.37L505.88,86.99L504.25,85.37Z" fill="none" stroke="#8FD744" stroke-width="0.72" stroke-opacity="0.95"/>
<path d="M510.67,85.09L512.29,86.71L510.67,88.33L509.05,86.71Z" fill="none" stroke="#8FD744" stroke-width="0.72" stroke-opacity="0.95"/>
<path d="M501.08,88.92L502.71,90.54L501.08,92.16L499.46,90.54Z" fill="none" stroke="#8FD744" stroke-width="0.72" stroke-opacity="0.95"/>
<path d="M502.04,90.26L503.67,91.88L502.04,93.51L500.42,91.88Z" fill="none" stroke="#8FD744" stroke-width="0.72" stroke-opacity="0.95"/>
<path d="M498.21,95.63L499.83,97.25L498.21,98.87L496.59,97.25Z" fill="none" stroke="#8FD744" stroke-width="0.72" stroke-opacity="0.95"/>
<path d="M504.92,93.71L506.54,95.33L504.92,96.96L503.30,95.33Z" fill="none" stroke="#8FD744" stroke-width="0.72" stroke-opacity="0.95"/>
<path d="M503.96,97.55L505.58,99.17L503.96,100.79L502.34,99.17Z" fill="none" stroke="#8FD744" stroke-width="0.72" stroke-opacity="0.95"/>
<path d="M509.71,97.55L511.33,99.17L509.71,100.79L508.09,99.17Z" fill="none" stroke="#8FD744" stroke-width="0.72" stroke-opacity="0.95"/>
<path d="M502.62,101.00L504.24,102.62L502.62,104.24L501.00,102.62Z" fill="none" stroke="#8FD744" stroke-width="0.72" stroke-opacity="0.95"/>
<path d="M506.84,102.34L508.46,103.96L506.84,105.58L505.21,103.96Z" fill="none" stroke="#8FD744" stroke-width="0.72" stroke-opacity="0.95"/>
<path d="M498.21,106.17L499.83,107.79L498.21,109.42L496.59,107.79Z" fill="none" stroke="#8FD744" stroke-width="0.72" stroke-opacity="0.95"/>
<path d="M504.92,107.13L506.54,108.75L504.92,110.37L503.30,108.75Z" fill="none" stroke="#8FD744" stroke-width="0.72" stroke-opacity="0.95"/>
<path d="M506.84,110.00L508.46,111.63L506.84,113.25L505.21,111.63Z" fill="none" stroke="#8FD744" stroke-width="0.72" stroke-opacity="0.95"/>
<path d="M502.04,111.92L503.67,113.54L502.04,115.17L500.42,113.54Z" fill="none" stroke="#8FD744" stroke-width="0.72" stroke-opacity="0.95"/>
<path d="M503.00,116.71L504.62,118.34L503.00,119.96L501.38,118.34Z" fill="none" stroke="#8FD744" stroke-width="0.72" stroke-opacity="0.95"/>
<path d="M500.13,118.63L501.75,120.25L500.13,121.88L498.50,120.25Z" fill="none" stroke="#8FD744" stroke-width="0.72" stroke-opacity="0.95"/>
<path d="M506.84,116.71L508.46,118.34L506.84,119.96L505.21,118.34Z" fill="none" stroke="#8FD744" stroke-width="0.72" stroke-opacity="0.95"/>
<path d="M498.21,122.46L499.83,124.09L498.21,125.71L496.59,124.09Z" fill="none" stroke="#8FD744" stroke-width="0.72" stroke-opacity="0.95"/>
<path d="M501.08,123.42L502.71,125.05L501.08,126.67L499.46,125.05Z" fill="none" stroke="#8FD744" stroke-width="0.72" stroke-opacity="0.95"/>
<path d="M503.96,123.42L505.58,125.05L503.96,126.67L502.34,125.05Z" fill="none" stroke="#8FD744" stroke-width="0.72" stroke-opacity="0.95"/>
<path d="M500.13,127.26L501.75,128.88L500.13,130.50L498.50,128.88Z" fill="none" stroke="#8FD744" stroke-width="0.72" stroke-opacity="0.95"/>
<path d="M504.92,128.21L506.54,129.84L504.92,131.46L503.30,129.84Z" fill="none" stroke="#8FD744" stroke-width="0.72" stroke-opacity="0.95"/>
<path d="M497.25,132.05L498.87,133.67L497.25,135.29L495.63,133.67Z" fill="none" stroke="#8FD744" stroke-width="0.72" stroke-opacity="0.95"/>
<path d="M501.08,133.97L502.71,135.59L501.08,137.21L499.46,135.59Z" fill="none" stroke="#8FD744" stroke-width="0.72" stroke-opacity="0.95"/>
<path d="M504.92,135.88L506.54,137.50L504.92,139.13L503.30,137.50Z" fill="none" stroke="#8FD744" stroke-width="0.72" stroke-opacity="0.95"/>
<path d="M506.84,139.72L508.46,141.34L506.84,142.96L505.21,141.34Z" fill="none" stroke="#8FD744" stroke-width="0.72" stroke-opacity="0.95"/>
<path d="M499.17,139.72L500.79,141.34L499.17,142.96L497.55,141.34Z" fill="none" stroke="#8FD744" stroke-width="0.72" stroke-opacity="0.95"/>
<path d="M495.33,143.55L496.96,145.17L495.33,146.79L493.71,145.17Z" fill="none" stroke="#8FD744" stroke-width="0.72" stroke-opacity="0.95"/>
<path d="M502.62,143.55L504.24,145.17L502.62,146.79L501.00,145.17Z" fill="none" stroke="#8FD744" stroke-width="0.72" stroke-opacity="0.95"/>
<path d="M505.88,145.47L507.50,147.09L505.88,148.71L504.25,147.09Z" fill="none" stroke="#8FD744" stroke-width="0.72" stroke-opacity="0.95"/>
<path d="M494.38,151.22L496.00,152.84L494.38,154.46L492.75,152.84Z" fill="none" stroke="#8FD744" stroke-width="0.72" stroke-opacity="0.95"/>
<path d="M499.17,153.13L500.79,154.76L499.17,156.38L497.55,154.76Z" fill="none" stroke="#8FD744" stroke-width="0.72" stroke-opacity="0.95"/>
<path d="M504.92,152.17L506.54,153.80L504.92,155.42L503.30,153.80Z" fill="none" stroke="#8FD744" stroke-width="0.72" stroke-opacity="0.95"/>
<path d="M502.04,158.88L503.67,160.51L502.04,162.13L500.42,160.51Z" fill="none" stroke="#8FD744" stroke-width="0.72" stroke-opacity="0.95"/>
<path d="M494.38,160.80L496.00,162.42L494.38,164.05L492.75,162.42Z" fill="none" stroke="#8FD744" stroke-width="0.72" stroke-opacity="0.95"/>
<path d="M500.70,166.55L502.32,168.17L500.70,169.80L499.08,168.17Z" fill="none" stroke="#8FD744" stroke-width="0.72" stroke-opacity="0.95"/>
<path d="M491.50,172.30L493.12,173.92L491.50,175.55L489.88,173.92Z" fill="none" stroke="#8FD744" stroke-width="0.72" stroke-opacity="0.95"/>
<path d="M522.17,108.09L523.79,109.71L522.17,111.33L520.55,109.71Z" fill="none" stroke="#8FD744" stroke-width="0.72" stroke-opacity="0.95"/>
<path d="M531.75,97.55L533.38,99.17L531.75,100.79L530.13,99.17Z" fill="none" stroke="#8FD744" stroke-width="0.72" stroke-opacity="0.95"/>
<path d="M533.29,117.67L534.91,119.29L533.29,120.92L531.66,119.29Z" fill="none" stroke="#8FD744" stroke-width="0.72" stroke-opacity="0.95"/>
<path d="M535.59,122.46L537.21,124.09L535.59,125.71L533.97,124.09Z" fill="none" stroke="#8FD744" stroke-width="0.72" stroke-opacity="0.95"/>
<path d="M516.42,79.34L518.04,80.96L516.42,82.58L514.80,80.96Z" fill="none" stroke="#8FD744" stroke-width="0.72" stroke-opacity="0.95"/>
<path d="M522.99,67.90L524.61,69.52L522.99,71.14L521.37,69.52Z" fill="none" stroke="#8FD744" stroke-width="0.72" stroke-opacity="0.95"/>
<path d="M527.28,72.19L528.90,73.81L527.28,75.43L525.66,73.81Z" fill="none" stroke="#8FD744" stroke-width="0.72" stroke-opacity="0.95"/>
<path d="M525.29,75.56L526.91,77.18L525.29,78.81L523.66,77.18Z" fill="none" stroke="#8FD744" stroke-width="0.72" stroke-opacity="0.95"/>
<path d="M547.51,66.37L549.13,67.99L547.51,69.61L545.89,67.99Z" fill="none" stroke="#8FD744" stroke-width="0.72" stroke-opacity="0.95"/>
<path d="M517.16,79.39L518.79,81.02L517.16,82.64L515.54,81.02Z" fill="none" stroke="#8FD744" stroke-width="0.72" stroke-opacity="0.95"/>
<path d="M505.82,83.53L507.45,85.15L505.82,86.78L504.20,85.15Z" fill="none" stroke="#8FD744" stroke-width="0.72" stroke-opacity="0.95"/>
<path d="M510.42,84.45L512.04,86.07L510.42,87.70L508.80,86.07Z" fill="none" stroke="#8FD744" stroke-width="0.72" stroke-opacity="0.95"/>
<path d="M532.49,88.13L534.11,89.75L532.49,91.37L530.87,89.75Z" fill="none" stroke="#8FD744" stroke-width="0.72" stroke-opacity="0.95"/>
<path d="M531.88,97.32L533.50,98.95L531.88,100.57L530.25,98.95Z" fill="none" stroke="#8FD744" stroke-width="0.72" stroke-opacity="0.95"/>
<path d="M544.75,95.48L546.37,97.11L544.75,98.73L543.13,97.11Z" fill="none" stroke="#8FD744" stroke-width="0.72" stroke-opacity="0.95"/>
<path d="M503.07,89.35L504.69,90.98L503.07,92.60L501.44,90.98Z" fill="none" stroke="#8FD744" stroke-width="0.72" stroke-opacity="0.95"/>
<path d="M544.44,115.41L546.07,117.03L544.44,118.65L542.82,117.03Z" fill="none" stroke="#8FD744" stroke-width="0.72" stroke-opacity="0.95"/>
<path d="M545.98,114.64L547.60,116.26L545.98,117.89L544.35,116.26Z" fill="none" stroke="#8FD744" stroke-width="0.72" stroke-opacity="0.95"/>
<path d="M539.54,118.47L541.16,120.10L539.54,121.72L537.92,120.10Z" fill="none" stroke="#8FD744" stroke-width="0.72" stroke-opacity="0.95"/>
<path d="M517.21,54.81L519.59,57.19M517.21,57.19L519.59,54.81" stroke="#35B779" stroke-width="0.72" stroke-opacity="0.95"/>
<path d="M543.21,58.41L545.59,60.79M543.21,60.79L545.59,58.41" stroke="#35B779" stroke-width="0.72" stroke-opacity="0.95"/>
<path d="M572.11,89.81L574.49,92.19M572.11,92.19L574.49,89.81" stroke="#35B779" stroke-width="0.72" stroke-opacity="0.95"/>
<path d="M556.71,111.21L559.09,113.59M556.71,113.59L559.09,111.21" stroke="#35B779" stroke-width="0.72" stroke-opacity="0.95"/>
<path d="M507.31,140.01L509.69,142.39M507.31,142.39L509.69,140.01" stroke="#35B779" stroke-width="0.72" stroke-opacity="0.95"/>
<path d="M521.80,60.98L524.17,63.35M521.80,63.35L524.17,60.98" stroke="#35B779" stroke-width="0.72" stroke-opacity="0.95"/>
<path d="M547.09,79.37L549.46,81.74M547.09,81.74L549.46,79.37" stroke="#35B779" stroke-width="0.72" stroke-opacity="0.95"/>
<path d="M540.96,89.33L543.33,91.70M540.96,91.70L543.33,89.33" stroke="#35B779" stroke-width="0.72" stroke-opacity="0.95"/>
<path d="M550.16,100.21L552.53,102.58M550.16,102.58L552.53,100.21" stroke="#35B779" stroke-width="0.72" stroke-opacity="0.95"/>
<path d="M547.86,105.88L550.23,108.25M547.86,108.25L550.23,105.88" stroke="#35B779" stroke-width="0.72" stroke-opacity="0.95"/>
<path d="M509.88,53.40H513.12M511.50,51.78V55.02" stroke="#21908C" stroke-width="0.72" stroke-opacity="0.95"/>
<path d="M529.78,59.10H533.02M531.40,57.48V60.72" stroke="#21908C" stroke-width="0.72" stroke-opacity="0.95"/>
<path d="M549.38,95.60H552.62M551.00,93.98V97.22" stroke="#21908C" stroke-width="0.72" stroke-opacity="0.95"/>
<path d="M502.08,128.70H505.32M503.70,127.08V130.32" stroke="#21908C" stroke-width="0.72" stroke-opacity="0.95"/>
<path d="M512.17,59.56H515.42M513.79,57.94V61.18" stroke="#21908C" stroke-width="0.72" stroke-opacity="0.95"/>
<path d="M511.40,64.92H514.65M513.03,63.30V66.55" stroke="#21908C" stroke-width="0.72" stroke-opacity="0.95"/>
<path d="M512.94,64.92H516.18M514.56,63.30V66.55" stroke="#21908C" stroke-width="0.72" stroke-opacity="0.95"/>
<path d="M515.24,64.92H518.48M516.86,63.30V66.55" stroke="#21908C" stroke-width="0.72" stroke-opacity="0.95"/>
<path d="M512.94,74.12H516.18M514.56,72.50V75.74" stroke="#21908C" stroke-width="0.72" stroke-opacity="0.95"/>
<path d="M517.99,66.46H521.24M519.62,64.83V68.08" stroke="#21908C" stroke-width="0.72" stroke-opacity="0.95"/>
<rect x="518.75" y="86.95" width="2.50" height="2.50" fill="none" stroke="#440154" stroke-width="0.72" stroke-opacity="0.95"/>
<rect x="526.95" y="84.25" width="2.50" height="2.50" fill="none" stroke="#440154" stroke-width="0.72" stroke-opacity="0.95"/>
<rect x="536.05" y="85.15" width="2.50" height="2.50" fill="none" stroke="#440154" stroke-width="0.72" stroke-opacity="0.95"/>
<rect x="557.25" y="145.15" width="2.50" height="2.50" fill="none" stroke="#440154" stroke-width="0.72" stroke-opacity="0.95"/>
<rect x="514.25" y="102.35" width="2.50" height="2.50" fill="none" stroke="#440154" stroke-width="0.72" stroke-opacity="0.95"/>
<rect x="529.10" y="92.79" width="2.50" height="2.50" fill="none" stroke="#440154" stroke-width="0.72" stroke-opacity="0.95"/>
<rect x="529.10" y="102.76" width="2.50" height="2.50" fill="none" stroke="#440154" stroke-width="0.72" stroke-opacity="0.95"/>
<rect x="526.34" y="107.05" width="2.50" height="2.50" fill="none" stroke="#440154" stroke-width="0.72" stroke-opacity="0.95"/>
<rect x="522.51" y="117.01" width="2.50" height="2.50" fill="none" stroke="#440154" stroke-width="0.72" stroke-opacity="0.95"/>
<circle cx="528.00" cy="85.60" r="1.31" fill="none" stroke="#443A83" stroke-width="0.72" stroke-opacity="0.95"/>
<circle cx="521.00" cy="100.00" r="1.31" fill="none" stroke="#443A83" stroke-width="0.72" stroke-opacity="0.95"/>
<circle cx="483.70" cy="176.30" r="1.31" fill="none" stroke="#443A83" stroke-width="0.72" stroke-opacity="0.95"/>
<circle cx="493.40" cy="139.10" r="1.31" fill="none" stroke="#443A83" stroke-width="0.72" stroke-opacity="0.95"/>
<circle cx="516.40" cy="100.00" r="1.31" fill="none" stroke="#443A83" stroke-width="0.72" stroke-opacity="0.95"/>
<circle cx="500.13" cy="133.67" r="1.31" fill="none" stroke="#443A83" stroke-width="0.72" stroke-opacity="0.95"/>
<circle cx="497.25" cy="142.30" r="1.31" fill="none" stroke="#443A83" stroke-width="0.72" stroke-opacity="0.95"/>
<circle cx="496.87" cy="146.13" r="1.31" fill="none" stroke="#443A83" stroke-width="0.72" stroke-opacity="0.95"/>
<circle cx="494.38" cy="140.38" r="1.31" fill="none" stroke="#443A83" stroke-width="0.72" stroke-opacity="0.95"/>
<path d="M518.56,89.50H521.44L520.00,87.00Z" fill="none" stroke="#FDE725" stroke-width="0.72" stroke-opacity="0.95"/>
<path d="M557.06,161.90H559.94L558.50,159.40Z" fill="none" stroke="#FDE725" stroke-width="0.72" stroke-opacity="0.95"/>
<path d="M544.96,168.60H547.84L546.40,166.10Z" fill="none" stroke="#FDE725" stroke-width="0.72" stroke-opacity="0.95"/>
<path d="M516.76,146.50H519.64L518.20,144.00Z" fill="none" stroke="#FDE725" stroke-width="0.72" stroke-opacity="0.95"/>
<path d="M509.46,103.70H512.34L510.90,101.20Z" fill="none" stroke="#FDE725" stroke-width="0.72" stroke-opacity="0.95"/>
<path d="M516.90,116.46H519.77L518.34,113.96Z" fill="none" stroke="#FDE725" stroke-width="0.72" stroke-opacity="0.95"/>
<path d="M519.78,124.13H522.65L521.21,121.63Z" fill="none" stroke="#FDE725" stroke-width="0.72" stroke-opacity="0.95"/>
<path d="M521.69,127.00H524.56L523.13,124.51Z" fill="none" stroke="#FDE725" stroke-width="0.72" stroke-opacity="0.95"/>
<path d="M509.23,104.96H512.10L510.67,102.46Z" fill="none" stroke="#FDE725" stroke-width="0.72" stroke-opacity="0.95"/>
<path d="M516.96,116.50H519.83L518.39,114.00Z" fill="none" stroke="#FDE725" stroke-width="0.72" stroke-opacity="0.95"/>
<path d="M520.02,123.39H522.89L521.46,120.90Z" fill="none" stroke="#FDE725" stroke-width="0.72" stroke-opacity="0.95"/>
<path d="M531.97,118.03H534.85L533.41,115.53Z" fill="none" stroke="#FDE725" stroke-width="0.72" stroke-opacity="0.95"/>
<path d="M543.26,192.80H546.14L544.70,195.30Z" fill="none" stroke="#31688E" stroke-width="0.72" stroke-opacity="0.95"/>
<path d="M547.56,209.80H550.44L549.00,212.30Z" fill="none" stroke="#31688E" stroke-width="0.72" stroke-opacity="0.95"/>
<path d="M540.06,219.50H542.94L541.50,222.00Z" fill="none" stroke="#31688E" stroke-width="0.72" stroke-opacity="0.95"/>
</g>
<rect x="462.5" y="0.6" width="173.29999999999995" height="241.45000000000002" fill="none" stroke="#CECECE" stroke-width="1.2"/>
<path d="M470.50,242.05v2.2M523.20,242.05v2.2M575.90,242.05v2.2M628.60,242.05v2.2M462.5,230.60h-2.2M462.5,175.80h-2.2M462.5,121.00h-2.2M462.5,66.20h-2.2M462.5,11.40h-2.2" stroke="#CECECE" stroke-width="0.8"/>
<g font-size="8.20" letter-spacing="-0.55" fill="#4D4D4D" stroke="#4D4D4D" stroke-width="0.04"><text x="469.40" y="249.55" text-anchor="middle">-0.5</text><text x="523.20" y="249.55" text-anchor="middle">0.0</text><text x="575.90" y="249.55" text-anchor="middle">0.5</text><text x="628.60" y="249.55" text-anchor="middle">1.0</text><text x="459.35" y="232.65" text-anchor="end">-0.4</text><text x="459.35" y="177.85" text-anchor="end">-0.2</text><text x="459.35" y="123.05" text-anchor="end">0.0</text><text x="459.35" y="68.25" text-anchor="end">0.2</text><text x="459.35" y="13.45" text-anchor="end">0.4</text></g>
<text x="550.75" y="256.65" text-anchor="middle" font-size="8.40" fill="#000">PC1</text>
<text transform="translate(446.80,119.62) rotate(-90)" text-anchor="middle" font-size="8.40" fill="#000">PC2</text>
<text x="549.15" y="12.20" text-anchor="middle" font-size="12.4" font-weight="bold" fill="#1a1a1a">Silurian</text>
<text x="464.80" y="16.60" font-size="17.6" font-weight="bold" fill="#1a1a1a">C</text>
<rect x="602.3" y="144.2" width="82.70000000000005" height="91.0" fill="#fff"/>
<text x="605.30" y="153.90" font-size="6.7" fill="#1a1a1a">Order</text>
<rect x="606.00" y="158.70" width="8.80" height="9.55" fill="#fff" stroke="#440154" stroke-width="0.95" stroke-opacity="0.85"/>
<rect x="609.04" y="162.11" width="2.72" height="2.72" fill="none" stroke="#440154" stroke-width="0.7"/>
<text x="619.00" y="165.88" font-size="5.55" fill="#1a1a1a" stroke="#1a1a1a" stroke-width="0.05">Aulacopleurida</text>
<rect x="606.00" y="169.25" width="8.80" height="9.55" fill="#fff" stroke="#443A83" stroke-width="0.95" stroke-opacity="0.85"/>
<circle cx="610.40" cy="174.03" r="1.43" fill="none" stroke="#443A83" stroke-width="0.7"/>
<text x="619.00" y="176.43" font-size="5.55" fill="#1a1a1a" stroke="#1a1a1a" stroke-width="0.05">Corynexochida</text>
<rect x="606.00" y="179.80" width="8.80" height="9.55" fill="#fff" stroke="#31688E" stroke-width="0.95" stroke-opacity="0.85"/>
<path d="M608.84,183.49H611.96L610.40,186.21Z" fill="none" stroke="#31688E" stroke-width="0.7"/>
<text x="619.00" y="186.97" font-size="5.55" fill="#1a1a1a" stroke="#1a1a1a" stroke-width="0.05">Harpida</text>
<rect x="606.00" y="190.35" width="8.80" height="9.55" fill="#fff" stroke="#21908C" stroke-width="0.95" stroke-opacity="0.85"/>
<path d="M608.63,195.12H612.17M610.40,193.36V196.89" stroke="#21908C" stroke-width="0.7"/>
<text x="619.00" y="197.53" font-size="5.55" fill="#1a1a1a" stroke="#1a1a1a" stroke-width="0.05">Lichida</text>
<rect x="606.00" y="200.90" width="8.80" height="9.55" fill="#fff" stroke="#35B779" stroke-width="0.95" stroke-opacity="0.85"/>
<path d="M609.11,204.38L611.69,206.97M609.11,206.97L611.69,204.38" stroke="#35B779" stroke-width="0.7"/>
<text x="619.00" y="208.07" font-size="5.55" fill="#1a1a1a" stroke="#1a1a1a" stroke-width="0.05">Odontopleurida</text>
<rect x="606.00" y="211.45" width="8.80" height="9.55" fill="#fff" stroke="#8FD744" stroke-width="0.95" stroke-opacity="0.85"/>
<path d="M610.40,214.46L612.17,216.22L610.40,217.99L608.63,216.22Z" fill="none" stroke="#8FD744" stroke-width="0.7"/>
<text x="619.00" y="218.62" font-size="5.55" fill="#1a1a1a" stroke="#1a1a1a" stroke-width="0.05">Phacopida</text>
<rect x="606.00" y="222.00" width="8.80" height="9.55" fill="#fff" stroke="#FDE725" stroke-width="0.95" stroke-opacity="0.85"/>
<path d="M608.84,227.86H611.96L610.40,225.14Z" fill="none" stroke="#FDE725" stroke-width="0.7"/>
<text x="619.00" y="229.18" font-size="5.55" fill="#1a1a1a" stroke="#1a1a1a" stroke-width="0.05">Proetida</text>
<clipPath id="clipD"><rect x="22.6" y="265.4" width="173.0" height="240.95000000000005"/></clipPath>
<path d="M56.70,265.4V506.35M109.30,265.4V506.35M161.90,265.4V506.35M22.6,468.43H195.6M22.6,413.51H195.6M22.6,358.59H195.6M22.6,303.67H195.6" stroke="#F2F2F2" stroke-width="0.5" fill="none"/>
<path d="M30.40,265.4V506.35M83.00,265.4V506.35M135.60,265.4V506.35M188.20,265.4V506.35M22.6,495.89H195.6M22.6,440.97H195.6M22.6,386.05H195.6M22.6,331.13H195.6M22.6,276.21H195.6" stroke="#EBEBEB" stroke-width="0.8" fill="none"/>
<g clip-path="url(#clipD)">
<path d="M31.9,299.9L118.1,335.5L117.0,407.8L47.3,447.4Z" fill="none" stroke="#8FD744" stroke-width="0.95" stroke-linejoin="round"/><circle cx="31.9" cy="299.9" r="0.9" fill="#8FD744"/><circle cx="118.1" cy="335.5" r="0.9" fill="#8FD744"/><circle cx="117.0" cy="407.8" r="0.9" fill="#8FD744"/><circle cx="47.3" cy="447.4" r="0.9" fill="#8FD744"/>
<path d="M85.9,280.3L130.3,345.4L123.9,369.3L72.1,355.1L77.6,319.5Z" fill="none" stroke="#21908C" stroke-width="0.95" stroke-linejoin="round"/><circle cx="85.9" cy="280.3" r="0.9" fill="#21908C"/><circle cx="130.3" cy="345.4" r="0.9" fill="#21908C"/><circle cx="123.9" cy="369.3" r="0.9" fill="#21908C"/><circle cx="72.1" cy="355.1" r="0.9" fill="#21908C"/><circle cx="77.6" cy="319.5" r="0.9" fill="#21908C"/>
<path d="M114.7,317.1L67.5,332.1L76.7,341.3L111.2,341.3Z" fill="none" stroke="#35B779" stroke-width="0.95" stroke-linejoin="round"/><circle cx="114.7" cy="317.1" r="0.9" fill="#35B779"/><circle cx="67.5" cy="332.1" r="0.9" fill="#35B779"/><circle cx="76.7" cy="341.3" r="0.9" fill="#35B779"/><circle cx="111.2" cy="341.3" r="0.9" fill="#35B779"/>
<path d="M114.7,319.4L119.3,371.5L94.2,414.2Z" fill="none" stroke="#440154" stroke-width="0.95" stroke-linejoin="round"/><circle cx="114.7" cy="319.4" r="0.9" fill="#440154"/><circle cx="119.3" cy="371.5" r="0.9" fill="#440154"/><circle cx="94.2" cy="414.2" r="0.9" fill="#440154"/>
<path d="M77.9,318.3L73.3,349.3L64.1,368.9L68.7,336.7Z" fill="none" stroke="#443A83" stroke-width="0.95" stroke-linejoin="round"/><circle cx="77.9" cy="318.3" r="0.9" fill="#443A83"/><circle cx="73.3" cy="349.3" r="0.9" fill="#443A83"/><circle cx="64.1" cy="368.9" r="0.9" fill="#443A83"/><circle cx="68.7" cy="336.7" r="0.9" fill="#443A83"/>
<path d="M88.2,369.2L126.1,372.6L117.0,408.3L76.0,387.6Z" fill="none" stroke="#FDE725" stroke-width="0.95" stroke-linejoin="round"/><circle cx="88.2" cy="369.2" r="0.9" fill="#FDE725"/><circle cx="126.1" cy="372.6" r="0.9" fill="#FDE725"/><circle cx="117.0" cy="408.3" r="0.9" fill="#FDE725"/><circle cx="76.0" cy="387.6" r="0.9" fill="#FDE725"/>
<path d="M64.1,419.5L95.2,445.2L111.0,460.6L116.4,480.2L97.1,479.9L84.5,474.4L61.0,463.9Z" fill="none" stroke="#31688E" stroke-width="0.95" stroke-linejoin="round"/><circle cx="64.1" cy="419.5" r="0.9" fill="#31688E"/><circle cx="95.2" cy="445.2" r="0.9" fill="#31688E"/><circle cx="111.0" cy="460.6" r="0.9" fill="#31688E"/><circle cx="116.4" cy="480.2" r="0.9" fill="#31688E"/><circle cx="97.1" cy="479.9" r="0.9" fill="#31688E"/><circle cx="84.5" cy="474.4" r="0.9" fill="#31688E"/><circle cx="61.0" cy="463.9" r="0.9" fill="#31688E"/>
<path d="M31.90,298.28L33.52,299.90L31.90,301.52L30.28,299.90Z" fill="none" stroke="#8FD744" stroke-width="0.72" stroke-opacity="0.95"/>
<path d="M118.10,333.88L119.72,335.50L118.10,337.12L116.48,335.50Z" fill="none" stroke="#8FD744" stroke-width="0.72" stroke-opacity="0.95"/>
<path d="M117.00,406.18L118.62,407.80L117.00,409.42L115.38,407.80Z" fill="none" stroke="#8FD744" stroke-width="0.72" stroke-opacity="0.95"/>
<path d="M47.30,445.78L48.92,447.40L47.30,449.02L45.68,447.40Z" fill="none" stroke="#8FD744" stroke-width="0.72" stroke-opacity="0.95"/>
<path d="M89.37,374.93L90.99,376.55L89.37,378.17L87.75,376.55Z" fill="none" stroke="#8FD744" stroke-width="0.72" stroke-opacity="0.95"/>
<path d="M93.97,376.77L95.59,378.39L93.97,380.01L92.34,378.39Z" fill="none" stroke="#8FD744" stroke-width="0.72" stroke-opacity="0.95"/>
<path d="M98.56,373.32L100.19,374.94L98.56,376.56L96.94,374.94Z" fill="none" stroke="#8FD744" stroke-width="0.72" stroke-opacity="0.95"/>
<path d="M100.86,372.17L102.48,373.79L100.86,375.42L99.24,373.79Z" fill="none" stroke="#8FD744" stroke-width="0.72" stroke-opacity="0.95"/>
<path d="M105.46,375.62L107.08,377.24L105.46,378.86L103.84,377.24Z" fill="none" stroke="#8FD744" stroke-width="0.72" stroke-opacity="0.95"/>
<path d="M110.06,368.72L111.68,370.34L110.06,371.97L108.44,370.34Z" fill="none" stroke="#8FD744" stroke-width="0.72" stroke-opacity="0.95"/>
<path d="M98.56,385.50L100.19,387.13L98.56,388.75L96.94,387.13Z" fill="none" stroke="#8FD744" stroke-width="0.72" stroke-opacity="0.95"/>
<path d="M104.31,391.71L105.93,393.33L104.31,394.96L102.69,393.33Z" fill="none" stroke="#8FD744" stroke-width="0.72" stroke-opacity="0.95"/>
<path d="M108.91,394.01L110.53,395.63L108.91,397.25L107.29,395.63Z" fill="none" stroke="#8FD744" stroke-width="0.72" stroke-opacity="0.95"/>
<path d="M105.46,403.21L107.08,404.83L105.46,406.45L103.84,404.83Z" fill="none" stroke="#8FD744" stroke-width="0.72" stroke-opacity="0.95"/>
<path d="M115.80,398.61L117.43,400.23L115.80,401.85L114.18,400.23Z" fill="none" stroke="#8FD744" stroke-width="0.72" stroke-opacity="0.95"/>
<path d="M88.22,333.89L89.84,335.52L88.22,337.14L86.60,335.52Z" fill="none" stroke="#8FD744" stroke-width="0.72" stroke-opacity="0.95"/>
<path d="M87.07,339.64L88.69,341.26L87.07,342.89L85.45,341.26Z" fill="none" stroke="#8FD744" stroke-width="0.72" stroke-opacity="0.95"/>
<path d="M99.02,341.48L100.65,343.10L99.02,344.73L97.40,343.10Z" fill="none" stroke="#8FD744" stroke-width="0.72" stroke-opacity="0.95"/>
<path d="M107.76,337.34L109.38,338.97L107.76,340.59L106.14,338.97Z" fill="none" stroke="#8FD744" stroke-width="0.72" stroke-opacity="0.95"/>
<path d="M96.26,349.99L97.89,351.61L96.26,353.23L94.64,351.61Z" fill="none" stroke="#8FD744" stroke-width="0.72" stroke-opacity="0.95"/>
<path d="M118.79,348.84L120.42,350.46L118.79,352.08L117.17,350.46Z" fill="none" stroke="#8FD744" stroke-width="0.72" stroke-opacity="0.95"/>
<path d="M103.62,356.88L105.24,358.51L103.62,360.13L102.00,358.51Z" fill="none" stroke="#8FD744" stroke-width="0.72" stroke-opacity="0.95"/>
<path d="M110.06,360.33L111.68,361.95L110.06,363.58L108.44,361.95Z" fill="none" stroke="#8FD744" stroke-width="0.72" stroke-opacity="0.95"/>
<path d="M107.76,369.53L109.38,371.15L107.76,372.77L106.14,371.15Z" fill="none" stroke="#8FD744" stroke-width="0.72" stroke-opacity="0.95"/>
<path d="M66.46,369.53L68.08,371.15L66.46,372.77L64.83,371.15Z" fill="none" stroke="#8FD744" stroke-width="0.72" stroke-opacity="0.95"/>
<path d="M71.44,371.83L73.06,373.45L71.44,375.07L69.81,373.45Z" fill="none" stroke="#8FD744" stroke-width="0.72" stroke-opacity="0.95"/>
<path d="M61.86,375.66L63.48,377.28L61.86,378.90L60.24,377.28Z" fill="none" stroke="#8FD744" stroke-width="0.72" stroke-opacity="0.95"/>
<path d="M65.08,374.12L66.70,375.75L65.08,377.37L63.45,375.75Z" fill="none" stroke="#8FD744" stroke-width="0.72" stroke-opacity="0.95"/>
<path d="M67.99,376.04L69.61,377.66L67.99,379.29L66.37,377.66Z" fill="none" stroke="#8FD744" stroke-width="0.72" stroke-opacity="0.95"/>
<path d="M70.29,375.66L71.91,377.28L70.29,378.90L68.66,377.28Z" fill="none" stroke="#8FD744" stroke-width="0.72" stroke-opacity="0.95"/>
<path d="M72.59,376.04L74.21,377.66L72.59,379.29L70.96,377.66Z" fill="none" stroke="#8FD744" stroke-width="0.72" stroke-opacity="0.95"/>
<path d="M67.99,378.34L69.61,379.96L67.99,381.58L66.37,379.96Z" fill="none" stroke="#8FD744" stroke-width="0.72" stroke-opacity="0.95"/>
<path d="M59.56,382.17L61.18,383.79L59.56,385.42L57.94,383.79Z" fill="none" stroke="#8FD744" stroke-width="0.72" stroke-opacity="0.95"/>
<path d="M57.64,384.85L59.27,386.48L57.64,388.10L56.02,386.48Z" fill="none" stroke="#8FD744" stroke-width="0.72" stroke-opacity="0.95"/>
<path d="M67.22,382.17L68.84,383.79L67.22,385.42L65.60,383.79Z" fill="none" stroke="#8FD744" stroke-width="0.72" stroke-opacity="0.95"/>
<path d="M70.29,382.55L71.91,384.18L70.29,385.80L68.66,384.18Z" fill="none" stroke="#8FD744" stroke-width="0.72" stroke-opacity="0.95"/>
<path d="M65.31,384.85L66.93,386.48L65.31,388.10L63.68,386.48Z" fill="none" stroke="#8FD744" stroke-width="0.72" stroke-opacity="0.95"/>
<path d="M63.39,386.39L65.01,388.01L63.39,389.63L61.77,388.01Z" fill="none" stroke="#8FD744" stroke-width="0.72" stroke-opacity="0.95"/>
<path d="M61.09,388.68L62.71,390.31L61.09,391.93L59.47,390.31Z" fill="none" stroke="#8FD744" stroke-width="0.72" stroke-opacity="0.95"/>
<path d="M52.66,387.92L54.29,389.54L52.66,391.16L51.04,389.54Z" fill="none" stroke="#8FD744" stroke-width="0.72" stroke-opacity="0.95"/>
<path d="M52.66,390.60L54.29,392.22L52.66,393.84L51.04,392.22Z" fill="none" stroke="#8FD744" stroke-width="0.72" stroke-opacity="0.95"/>
<path d="M58.03,390.60L59.65,392.22L58.03,393.84L56.40,392.22Z" fill="none" stroke="#8FD744" stroke-width="0.72" stroke-opacity="0.95"/>
<path d="M58.79,394.43L60.42,396.05L58.79,397.68L57.17,396.05Z" fill="none" stroke="#8FD744" stroke-width="0.72" stroke-opacity="0.95"/>
<path d="M63.39,393.66L65.01,395.29L63.39,396.91L61.77,395.29Z" fill="none" stroke="#8FD744" stroke-width="0.72" stroke-opacity="0.95"/>
<path d="M63.39,397.50L65.01,399.12L63.39,400.74L61.77,399.12Z" fill="none" stroke="#8FD744" stroke-width="0.72" stroke-opacity="0.95"/>
<path d="M67.99,391.37L69.61,392.99L67.99,394.61L66.37,392.99Z" fill="none" stroke="#8FD744" stroke-width="0.72" stroke-opacity="0.95"/>
<path d="M74.12,389.83L75.74,391.46L74.12,393.08L72.50,391.46Z" fill="none" stroke="#8FD744" stroke-width="0.72" stroke-opacity="0.95"/>
<path d="M78.72,390.98L80.34,392.61L78.72,394.23L77.09,392.61Z" fill="none" stroke="#8FD744" stroke-width="0.72" stroke-opacity="0.95"/>
<path d="M54.96,398.26L56.58,399.89L54.96,401.51L53.34,399.89Z" fill="none" stroke="#8FD744" stroke-width="0.72" stroke-opacity="0.95"/>
<path d="M54.96,401.71L56.58,403.33L54.96,404.96L53.34,403.33Z" fill="none" stroke="#8FD744" stroke-width="0.72" stroke-opacity="0.95"/>
<path d="M61.48,401.33L63.10,402.95L61.48,404.57L59.85,402.95Z" fill="none" stroke="#8FD744" stroke-width="0.72" stroke-opacity="0.95"/>
<path d="M67.22,401.71L68.84,403.33L67.22,404.96L65.60,403.33Z" fill="none" stroke="#8FD744" stroke-width="0.72" stroke-opacity="0.95"/>
<path d="M69.52,401.33L71.14,402.95L69.52,404.57L67.90,402.95Z" fill="none" stroke="#8FD744" stroke-width="0.72" stroke-opacity="0.95"/>
<path d="M66.46,405.93L68.08,407.55L66.46,409.17L64.83,407.55Z" fill="none" stroke="#8FD744" stroke-width="0.72" stroke-opacity="0.95"/>
<path d="M71.82,406.69L73.44,408.31L71.82,409.94L70.20,408.31Z" fill="none" stroke="#8FD744" stroke-width="0.72" stroke-opacity="0.95"/>
<path d="M51.13,405.93L52.75,407.55L51.13,409.17L49.51,407.55Z" fill="none" stroke="#8FD744" stroke-width="0.72" stroke-opacity="0.95"/>
<path d="M56.88,392.90L58.50,394.52L56.88,396.14L55.25,394.52Z" fill="none" stroke="#8FD744" stroke-width="0.72" stroke-opacity="0.95"/>
<path d="M58.41,380.64L60.03,382.26L58.41,383.88L56.79,382.26Z" fill="none" stroke="#8FD744" stroke-width="0.72" stroke-opacity="0.95"/>
<path d="M64.16,389.07L65.78,390.69L64.16,392.31L62.53,390.69Z" fill="none" stroke="#8FD744" stroke-width="0.72" stroke-opacity="0.95"/>
<path d="M61.48,392.13L63.10,393.75L61.48,395.38L59.85,393.75Z" fill="none" stroke="#8FD744" stroke-width="0.72" stroke-opacity="0.95"/>
<path d="M67.99,348.30L69.61,349.92L67.99,351.55L66.37,349.92Z" fill="none" stroke="#8FD744" stroke-width="0.72" stroke-opacity="0.95"/>
<path d="M67.61,357.88L69.23,359.50L67.61,361.12L65.98,359.50Z" fill="none" stroke="#8FD744" stroke-width="0.72" stroke-opacity="0.95"/>
<path d="M69.52,359.03L71.14,360.65L69.52,362.27L67.90,360.65Z" fill="none" stroke="#8FD744" stroke-width="0.72" stroke-opacity="0.95"/>
<path d="M73.74,358.65L75.36,360.27L73.74,361.89L72.11,360.27Z" fill="none" stroke="#8FD744" stroke-width="0.72" stroke-opacity="0.95"/>
<path d="M76.03,360.56L77.66,362.18L76.03,363.81L74.41,362.18Z" fill="none" stroke="#8FD744" stroke-width="0.72" stroke-opacity="0.95"/>
<path d="M61.86,362.09L63.48,363.72L61.86,365.34L60.24,363.72Z" fill="none" stroke="#8FD744" stroke-width="0.72" stroke-opacity="0.95"/>
<path d="M73.35,365.54L74.97,367.16L73.35,368.79L71.73,367.16Z" fill="none" stroke="#8FD744" stroke-width="0.72" stroke-opacity="0.95"/>
<path d="M51.11,405.68L52.73,407.30L51.11,408.92L49.49,407.30Z" fill="none" stroke="#8FD744" stroke-width="0.72" stroke-opacity="0.95"/>
<path d="M52.64,408.36L54.27,409.98L52.64,411.60L51.02,409.98Z" fill="none" stroke="#8FD744" stroke-width="0.72" stroke-opacity="0.95"/>
<path d="M56.09,409.12L57.71,410.75L56.09,412.37L54.47,410.75Z" fill="none" stroke="#8FD744" stroke-width="0.72" stroke-opacity="0.95"/>
<path d="M54.18,413.72L55.80,415.34L54.18,416.97L52.55,415.34Z" fill="none" stroke="#8FD744" stroke-width="0.72" stroke-opacity="0.95"/>
<path d="M58.39,413.34L60.01,414.96L58.39,416.58L56.77,414.96Z" fill="none" stroke="#8FD744" stroke-width="0.72" stroke-opacity="0.95"/>
<path d="M59.54,417.17L61.16,418.79L59.54,420.42L57.92,418.79Z" fill="none" stroke="#8FD744" stroke-width="0.72" stroke-opacity="0.95"/>
<path d="M66.44,406.44L68.06,408.07L66.44,409.69L64.81,408.07Z" fill="none" stroke="#8FD744" stroke-width="0.72" stroke-opacity="0.95"/>
<path d="M72.18,407.21L73.81,408.83L72.18,410.45L70.56,408.83Z" fill="none" stroke="#8FD744" stroke-width="0.72" stroke-opacity="0.95"/>
<path d="M67.59,414.87L69.21,416.49L67.59,418.12L65.96,416.49Z" fill="none" stroke="#8FD744" stroke-width="0.72" stroke-opacity="0.95"/>
<path d="M55.33,425.22L56.95,426.84L55.33,428.46L53.70,426.84Z" fill="none" stroke="#8FD744" stroke-width="0.72" stroke-opacity="0.95"/>
<path d="M59.16,433.26L60.78,434.89L59.16,436.51L57.53,434.89Z" fill="none" stroke="#8FD744" stroke-width="0.72" stroke-opacity="0.95"/>
<path d="M84.28,280.30H87.52M85.90,278.68V281.92" stroke="#21908C" stroke-width="0.72" stroke-opacity="0.95"/>
<path d="M128.68,345.40H131.92M130.30,343.78V347.02" stroke="#21908C" stroke-width="0.72" stroke-opacity="0.95"/>
<path d="M122.28,369.30H125.52M123.90,367.68V370.92" stroke="#21908C" stroke-width="0.72" stroke-opacity="0.95"/>
<path d="M70.48,355.10H73.72M72.10,353.48V356.72" stroke="#21908C" stroke-width="0.72" stroke-opacity="0.95"/>
<path d="M75.98,319.50H79.22M77.60,317.88V321.12" stroke="#21908C" stroke-width="0.72" stroke-opacity="0.95"/>
<path d="M87.75,284.94H90.99M89.37,283.32V286.56" stroke="#21908C" stroke-width="0.72" stroke-opacity="0.95"/>
<path d="M90.50,299.43H93.75M92.13,297.80V301.05" stroke="#21908C" stroke-width="0.72" stroke-opacity="0.95"/>
<path d="M106.14,321.03H109.38M107.76,319.41V322.66" stroke="#21908C" stroke-width="0.72" stroke-opacity="0.95"/>
<path d="M111.88,360.11H115.13M113.51,358.49V361.74" stroke="#21908C" stroke-width="0.72" stroke-opacity="0.95"/>
<path d="M113.51,315.91L115.89,318.29M113.51,318.29L115.89,315.91" stroke="#35B779" stroke-width="0.72" stroke-opacity="0.95"/>
<path d="M66.31,330.91L68.69,333.29M66.31,333.29L68.69,330.91" stroke="#35B779" stroke-width="0.72" stroke-opacity="0.95"/>
<path d="M75.51,340.11L77.89,342.49M75.51,342.49L77.89,340.11" stroke="#35B779" stroke-width="0.72" stroke-opacity="0.95"/>
<path d="M110.01,340.11L112.39,342.49M110.01,342.49L112.39,340.11" stroke="#35B779" stroke-width="0.72" stroke-opacity="0.95"/>
<rect x="113.45" y="318.15" width="2.50" height="2.50" fill="none" stroke="#440154" stroke-width="0.72" stroke-opacity="0.95"/>
<rect x="118.05" y="370.25" width="2.50" height="2.50" fill="none" stroke="#440154" stroke-width="0.72" stroke-opacity="0.95"/>
<rect x="92.95" y="412.95" width="2.50" height="2.50" fill="none" stroke="#440154" stroke-width="0.72" stroke-opacity="0.95"/>
<rect x="115.75" y="343.75" width="2.50" height="2.50" fill="none" stroke="#440154" stroke-width="0.72" stroke-opacity="0.95"/>
<circle cx="77.90" cy="318.30" r="1.31" fill="none" stroke="#443A83" stroke-width="0.72" stroke-opacity="0.95"/>
<circle cx="73.30" cy="349.30" r="1.31" fill="none" stroke="#443A83" stroke-width="0.72" stroke-opacity="0.95"/>
<circle cx="64.10" cy="368.90" r="1.31" fill="none" stroke="#443A83" stroke-width="0.72" stroke-opacity="0.95"/>
<circle cx="68.70" cy="336.70" r="1.31" fill="none" stroke="#443A83" stroke-width="0.72" stroke-opacity="0.95"/>
<circle cx="70.00" cy="330.00" r="1.31" fill="none" stroke="#443A83" stroke-width="0.72" stroke-opacity="0.95"/>
<circle cx="72.00" cy="340.00" r="1.31" fill="none" stroke="#443A83" stroke-width="0.72" stroke-opacity="0.95"/>
<path d="M86.76,370.20H89.64L88.20,367.70Z" fill="none" stroke="#FDE725" stroke-width="0.72" stroke-opacity="0.95"/>
<path d="M124.66,373.60H127.54L126.10,371.10Z" fill="none" stroke="#FDE725" stroke-width="0.72" stroke-opacity="0.95"/>
<path d="M115.56,409.30H118.44L117.00,406.80Z" fill="none" stroke="#FDE725" stroke-width="0.72" stroke-opacity="0.95"/>
<path d="M74.56,388.60H77.44L76.00,386.10Z" fill="none" stroke="#FDE725" stroke-width="0.72" stroke-opacity="0.95"/>
<path d="M91.56,387.00H94.44L93.00,384.50Z" fill="none" stroke="#FDE725" stroke-width="0.72" stroke-opacity="0.95"/>
<path d="M99.56,389.00H102.44L101.00,386.50Z" fill="none" stroke="#FDE725" stroke-width="0.72" stroke-opacity="0.95"/>
<path d="M107.56,387.00H110.44L109.00,384.50Z" fill="none" stroke="#FDE725" stroke-width="0.72" stroke-opacity="0.95"/>
<path d="M110.56,401.00H113.44L112.00,398.50Z" fill="none" stroke="#FDE725" stroke-width="0.72" stroke-opacity="0.95"/>
<path d="M62.66,418.50H65.54L64.10,421.00Z" fill="none" stroke="#31688E" stroke-width="0.72" stroke-opacity="0.95"/>
<path d="M93.76,444.20H96.64L95.20,446.70Z" fill="none" stroke="#31688E" stroke-width="0.72" stroke-opacity="0.95"/>
<path d="M109.56,459.60H112.44L111.00,462.10Z" fill="none" stroke="#31688E" stroke-width="0.72" stroke-opacity="0.95"/>
<path d="M114.96,479.20H117.84L116.40,481.70Z" fill="none" stroke="#31688E" stroke-width="0.72" stroke-opacity="0.95"/>
<path d="M95.66,478.90H98.54L97.10,481.40Z" fill="none" stroke="#31688E" stroke-width="0.72" stroke-opacity="0.95"/>
<path d="M83.06,473.40H85.94L84.50,475.90Z" fill="none" stroke="#31688E" stroke-width="0.72" stroke-opacity="0.95"/>
<path d="M59.56,462.90H62.44L61.00,465.40Z" fill="none" stroke="#31688E" stroke-width="0.72" stroke-opacity="0.95"/>
<path d="M70.76,461.10H73.64L72.20,463.60Z" fill="none" stroke="#31688E" stroke-width="0.72" stroke-opacity="0.95"/>
<path d="M79.66,459.60H82.54L81.10,462.10Z" fill="none" stroke="#31688E" stroke-width="0.72" stroke-opacity="0.95"/>
<path d="M93.36,468.80H96.24L94.80,471.30Z" fill="none" stroke="#31688E" stroke-width="0.72" stroke-opacity="0.95"/>
<path d="M96.86,474.60H99.74L98.30,477.10Z" fill="none" stroke="#31688E" stroke-width="0.72" stroke-opacity="0.95"/>
</g>
<rect x="22.6" y="265.4" width="173.0" height="240.95000000000005" fill="none" stroke="#CECECE" stroke-width="1.2"/>
<path d="M30.40,506.35v2.2M83.00,506.35v2.2M135.60,506.35v2.2M188.20,506.35v2.2M22.6,495.89h-2.2M22.6,440.97h-2.2M22.6,386.05h-2.2M22.6,331.13h-2.2M22.6,276.21h-2.2" stroke="#CECECE" stroke-width="0.8"/>
<g font-size="8.20" letter-spacing="-0.55" fill="#4D4D4D" stroke="#4D4D4D" stroke-width="0.04"><text x="29.30" y="513.85" text-anchor="middle">-0.5</text><text x="83.00" y="513.85" text-anchor="middle">0.0</text><text x="135.60" y="513.85" text-anchor="middle">0.5</text><text x="188.20" y="513.85" text-anchor="middle">1.0</text><text x="19.45" y="497.94" text-anchor="end">-0.4</text><text x="19.45" y="443.02" text-anchor="end">-0.2</text><text x="19.45" y="388.10" text-anchor="end">0.0</text><text x="19.45" y="333.18" text-anchor="end">0.2</text><text x="19.45" y="278.26" text-anchor="end">0.4</text></g>
<text x="110.70" y="520.95" text-anchor="middle" font-size="8.40" fill="#000">PC1</text>
<text transform="translate(6.90,384.18) rotate(-90)" text-anchor="middle" font-size="8.40" fill="#000">PC2</text>
<text x="109.10" y="277.00" text-anchor="middle" font-size="12.4" font-weight="bold" fill="#1a1a1a">Devonian</text>
<text x="27.00" y="281.90" font-size="17.6" font-weight="bold" fill="#1a1a1a">D</text>
<rect x="162.3" y="409.3" width="69.69999999999999" height="89.89999999999998" fill="#fff"/>
<text x="165.50" y="418.20" font-size="6.7" fill="#1a1a1a">Order</text>
<rect x="166.20" y="423.00" width="8.80" height="9.55" fill="#fff" stroke="#440154" stroke-width="0.95" stroke-opacity="0.85"/>
<rect x="169.24" y="426.41" width="2.72" height="2.72" fill="none" stroke="#440154" stroke-width="0.7"/>
<text x="179.20" y="430.17" font-size="5.55" fill="#1a1a1a" stroke="#1a1a1a" stroke-width="0.05">Aulacopleurida</text>
<rect x="166.20" y="433.55" width="8.80" height="9.55" fill="#fff" stroke="#443A83" stroke-width="0.95" stroke-opacity="0.85"/>
<circle cx="170.60" cy="438.32" r="1.43" fill="none" stroke="#443A83" stroke-width="0.7"/>
<text x="179.20" y="440.72" font-size="5.55" fill="#1a1a1a" stroke="#1a1a1a" stroke-width="0.05">Corynexochida</text>
<rect x="166.20" y="444.10" width="8.80" height="9.55" fill="#fff" stroke="#31688E" stroke-width="0.95" stroke-opacity="0.85"/>
<path d="M169.04,447.79H172.16L170.60,450.51Z" fill="none" stroke="#31688E" stroke-width="0.7"/>
<text x="179.20" y="451.27" font-size="5.55" fill="#1a1a1a" stroke="#1a1a1a" stroke-width="0.05">Harpida</text>
<rect x="166.20" y="454.65" width="8.80" height="9.55" fill="#fff" stroke="#21908C" stroke-width="0.95" stroke-opacity="0.85"/>
<path d="M168.83,459.42H172.37M170.60,457.66V461.19" stroke="#21908C" stroke-width="0.7"/>
<text x="179.20" y="461.82" font-size="5.55" fill="#1a1a1a" stroke="#1a1a1a" stroke-width="0.05">Lichida</text>
<rect x="166.20" y="465.20" width="8.80" height="9.55" fill="#fff" stroke="#35B779" stroke-width="0.95" stroke-opacity="0.85"/>
<path d="M169.31,468.68L171.89,471.27M169.31,471.27L171.89,468.68" stroke="#35B779" stroke-width="0.7"/>
<text x="179.20" y="472.37" font-size="5.55" fill="#1a1a1a" stroke="#1a1a1a" stroke-width="0.05">Odontopleurida</text>
<rect x="166.20" y="475.75" width="8.80" height="9.55" fill="#fff" stroke="#8FD744" stroke-width="0.95" stroke-opacity="0.85"/>
<path d="M170.60,478.76L172.37,480.52L170.60,482.29L168.83,480.52Z" fill="none" stroke="#8FD744" stroke-width="0.7"/>
<text x="179.20" y="482.92" font-size="5.55" fill="#1a1a1a" stroke="#1a1a1a" stroke-width="0.05">Phacopida</text>
<rect x="166.20" y="486.30" width="8.80" height="9.55" fill="#fff" stroke="#FDE725" stroke-width="0.95" stroke-opacity="0.85"/>
<path d="M169.04,492.16H172.16L170.60,489.44Z" fill="none" stroke="#FDE725" stroke-width="0.7"/>
<text x="179.20" y="493.47" font-size="5.55" fill="#1a1a1a" stroke="#1a1a1a" stroke-width="0.05">Proetida</text>
<clipPath id="clipE"><rect x="241.4" y="265.4" width="174.95000000000002" height="241.10000000000002"/></clipPath>
<path d="M275.80,265.4V506.5M328.80,265.4V506.5M381.80,265.4V506.5M241.4,468.43H416.35M241.4,413.51H416.35M241.4,358.59H416.35M241.4,303.67H416.35" stroke="#F2F2F2" stroke-width="0.5" fill="none"/>
<path d="M249.30,265.4V506.5M302.30,265.4V506.5M355.30,265.4V506.5M408.30,265.4V506.5M241.4,495.89H416.35M241.4,440.97H416.35M241.4,386.05H416.35M241.4,331.13H416.35M241.4,276.21H416.35" stroke="#EBEBEB" stroke-width="0.8" fill="none"/>
<g clip-path="url(#clipE)">
<path d="M297.4,306.7L329.7,324.1L349.1,405.2L281.9,382.3L281.7,362.1Z" fill="none" stroke="#FDE725" stroke-width="0.95" stroke-linejoin="round"/><circle cx="297.4" cy="306.7" r="0.9" fill="#FDE725"/><circle cx="329.7" cy="324.1" r="0.9" fill="#FDE725"/><circle cx="349.1" cy="405.2" r="0.9" fill="#FDE725"/><circle cx="281.9" cy="382.3" r="0.9" fill="#FDE725"/><circle cx="281.7" cy="362.1" r="0.9" fill="#FDE725"/>
<circle cx="297.40" cy="306.70" r="1.31" fill="none" stroke="#FDE725" stroke-width="0.8" stroke-opacity="0.85"/>
<circle cx="329.70" cy="324.10" r="1.31" fill="none" stroke="#FDE725" stroke-width="0.8" stroke-opacity="0.85"/>
<circle cx="349.10" cy="405.20" r="1.31" fill="none" stroke="#FDE725" stroke-width="0.8" stroke-opacity="0.85"/>
<circle cx="281.90" cy="382.30" r="1.31" fill="none" stroke="#FDE725" stroke-width="0.8" stroke-opacity="0.85"/>
<circle cx="281.70" cy="362.10" r="1.31" fill="none" stroke="#FDE725" stroke-width="0.8" stroke-opacity="0.85"/>
<circle cx="307.30" cy="312.40" r="1.31" fill="none" stroke="#FDE725" stroke-width="0.8" stroke-opacity="0.85"/>
<circle cx="301.80" cy="317.40" r="1.31" fill="none" stroke="#FDE725" stroke-width="0.8" stroke-opacity="0.85"/>
<circle cx="296.60" cy="320.30" r="1.31" fill="none" stroke="#FDE725" stroke-width="0.8" stroke-opacity="0.85"/>
<circle cx="299.40" cy="323.10" r="1.31" fill="none" stroke="#FDE725" stroke-width="0.8" stroke-opacity="0.85"/>
<circle cx="302.80" cy="325.60" r="1.31" fill="none" stroke="#FDE725" stroke-width="0.8" stroke-opacity="0.85"/>
<circle cx="312.30" cy="326.10" r="1.31" fill="none" stroke="#FDE725" stroke-width="0.8" stroke-opacity="0.85"/>
<circle cx="302.80" cy="331.30" r="1.31" fill="none" stroke="#FDE725" stroke-width="0.8" stroke-opacity="0.85"/>
<circle cx="300.30" cy="332.30" r="1.31" fill="none" stroke="#FDE725" stroke-width="0.8" stroke-opacity="0.85"/>
<circle cx="293.10" cy="334.30" r="1.31" fill="none" stroke="#FDE725" stroke-width="0.8" stroke-opacity="0.85"/>
<circle cx="294.40" cy="339.80" r="1.31" fill="none" stroke="#FDE725" stroke-width="0.8" stroke-opacity="0.85"/>
<circle cx="302.30" cy="339.80" r="1.31" fill="none" stroke="#FDE725" stroke-width="0.8" stroke-opacity="0.85"/>
<circle cx="309.30" cy="340.20" r="1.31" fill="none" stroke="#FDE725" stroke-width="0.8" stroke-opacity="0.85"/>
<circle cx="295.40" cy="346.50" r="1.31" fill="none" stroke="#FDE725" stroke-width="0.8" stroke-opacity="0.85"/>
<circle cx="288.20" cy="349.00" r="1.31" fill="none" stroke="#FDE725" stroke-width="0.8" stroke-opacity="0.85"/>
<circle cx="286.90" cy="351.40" r="1.31" fill="none" stroke="#FDE725" stroke-width="0.8" stroke-opacity="0.85"/>
<circle cx="305.30" cy="353.40" r="1.31" fill="none" stroke="#FDE725" stroke-width="0.8" stroke-opacity="0.85"/>
<circle cx="298.60" cy="356.40" r="1.31" fill="none" stroke="#FDE725" stroke-width="0.8" stroke-opacity="0.85"/>
<circle cx="291.60" cy="357.90" r="1.31" fill="none" stroke="#FDE725" stroke-width="0.8" stroke-opacity="0.85"/>
<circle cx="286.20" cy="358.90" r="1.31" fill="none" stroke="#FDE725" stroke-width="0.8" stroke-opacity="0.85"/>
<circle cx="308.60" cy="359.20" r="1.31" fill="none" stroke="#FDE725" stroke-width="0.8" stroke-opacity="0.85"/>
<circle cx="317.30" cy="362.40" r="1.31" fill="none" stroke="#FDE725" stroke-width="0.8" stroke-opacity="0.85"/>
<circle cx="319.30" cy="363.40" r="1.31" fill="none" stroke="#FDE725" stroke-width="0.8" stroke-opacity="0.85"/>
<circle cx="286.20" cy="367.40" r="1.31" fill="none" stroke="#FDE725" stroke-width="0.8" stroke-opacity="0.85"/>
<circle cx="332.20" cy="371.10" r="1.31" fill="none" stroke="#FDE725" stroke-width="0.8" stroke-opacity="0.85"/>
<circle cx="319.00" cy="374.30" r="1.31" fill="none" stroke="#FDE725" stroke-width="0.8" stroke-opacity="0.85"/>
<circle cx="330.40" cy="382.80" r="1.31" fill="none" stroke="#FDE725" stroke-width="0.8" stroke-opacity="0.85"/>
<circle cx="301.80" cy="313.10" r="1.31" fill="none" stroke="#440154" stroke-width="0.6"/>
</g>
<rect x="241.4" y="265.4" width="174.95000000000002" height="241.10000000000002" fill="none" stroke="#CECECE" stroke-width="1.2"/>
<path d="M249.30,506.5v2.2M302.30,506.5v2.2M355.30,506.5v2.2M408.30,506.5v2.2M241.4,495.89h-2.2M241.4,440.97h-2.2M241.4,386.05h-2.2M241.4,331.13h-2.2M241.4,276.21h-2.2" stroke="#CECECE" stroke-width="0.8"/>
<g font-size="8.20" letter-spacing="-0.55" fill="#4D4D4D" stroke="#4D4D4D" stroke-width="0.04"><text x="248.20" y="514.00" text-anchor="middle">-0.5</text><text x="302.30" y="514.00" text-anchor="middle">0.0</text><text x="355.30" y="514.00" text-anchor="middle">0.5</text><text x="408.30" y="514.00" text-anchor="middle">1.0</text><text x="238.25" y="497.94" text-anchor="end">-0.4</text><text x="238.25" y="443.02" text-anchor="end">-0.2</text><text x="238.25" y="388.10" text-anchor="end">0.0</text><text x="238.25" y="333.18" text-anchor="end">0.2</text><text x="238.25" y="278.26" text-anchor="end">0.4</text></g>
<text x="330.48" y="521.10" text-anchor="middle" font-size="8.40" fill="#000">PC1</text>
<text transform="translate(225.70,384.25) rotate(-90)" text-anchor="middle" font-size="8.40" fill="#000">PC2</text>
<text x="328.88" y="277.00" text-anchor="middle" font-size="12.4" font-weight="bold" fill="#1a1a1a">Carboniferous</text>
<text x="246.00" y="281.90" font-size="17.6" font-weight="bold" fill="#1a1a1a">E</text>
<rect x="382.9" y="409.3" width="69.10000000000002" height="37.19999999999999" fill="#fff"/>
<text x="385.90" y="418.60" font-size="6.7" fill="#1a1a1a">Order</text>
<rect x="386.60" y="423.40" width="8.80" height="9.55" fill="#fff" stroke="#440154" stroke-width="0.95" stroke-opacity="0.85"/>
<rect x="389.64" y="426.81" width="2.72" height="2.72" fill="none" stroke="#440154" stroke-width="0.7"/>
<text x="399.60" y="430.57" font-size="5.55" fill="#1a1a1a" stroke="#1a1a1a" stroke-width="0.05">Aulacopleurida</text>
<rect x="386.60" y="433.95" width="8.80" height="9.55" fill="#fff" stroke="#FDE725" stroke-width="0.95" stroke-opacity="0.85"/>
<circle cx="391.00" cy="438.72" r="1.43" fill="none" stroke="#FDE725" stroke-width="0.7"/>
<text x="399.60" y="441.12" font-size="5.55" fill="#1a1a1a" stroke="#1a1a1a" stroke-width="0.05">Proetida</text>
<clipPath id="clipF"><rect x="463.6" y="265.3" width="171.89999999999998" height="235.8"/></clipPath>
<path d="M497.25,265.3V501.1M549.35,265.3V501.1M601.45,265.3V501.1M463.6,463.45H635.5M463.6,409.95H635.5M463.6,356.45H635.5M463.6,302.95H635.5" stroke="#F2F2F2" stroke-width="0.5" fill="none"/>
<path d="M471.20,265.3V501.1M523.30,265.3V501.1M575.40,265.3V501.1M627.50,265.3V501.1M463.6,490.20H635.5M463.6,436.70H635.5M463.6,383.20H635.5M463.6,329.70H635.5M463.6,276.20H635.5" stroke="#EBEBEB" stroke-width="0.8" fill="none"/>
<g clip-path="url(#clipF)">
<path d="M525.7,380.0L550.8,432.4L544.4,445.9L491.5,445.1L489.5,432.4L506.4,389.5L520.6,381.8Z" fill="none" stroke="#440154" stroke-width="0.95" stroke-linejoin="round"/><circle cx="525.7" cy="380.0" r="0.9" fill="#440154"/><circle cx="550.8" cy="432.4" r="0.9" fill="#440154"/><circle cx="544.4" cy="445.9" r="0.9" fill="#440154"/><circle cx="491.5" cy="445.1" r="0.9" fill="#440154"/><circle cx="489.5" cy="432.4" r="0.9" fill="#440154"/><circle cx="506.4" cy="389.5" r="0.9" fill="#440154"/><circle cx="520.6" cy="381.8" r="0.9" fill="#440154"/>
<circle cx="513.74" cy="389.37" r="1.31" fill="none" stroke="#440154" stroke-width="0.72" stroke-opacity="0.5"/>
<circle cx="520.92" cy="388.94" r="1.31" fill="none" stroke="#440154" stroke-width="0.72" stroke-opacity="0.5"/>
<circle cx="510.57" cy="397.99" r="1.31" fill="none" stroke="#440154" stroke-width="0.72" stroke-opacity="0.5"/>
<circle cx="518.05" cy="400.14" r="1.31" fill="none" stroke="#440154" stroke-width="0.72" stroke-opacity="0.5"/>
<circle cx="519.05" cy="404.74" r="1.31" fill="none" stroke="#440154" stroke-width="0.72" stroke-opacity="0.5"/>
<circle cx="498.65" cy="416.95" r="1.31" fill="none" stroke="#440154" stroke-width="0.72" stroke-opacity="0.5"/>
<circle cx="506.55" cy="417.39" r="1.31" fill="none" stroke="#440154" stroke-width="0.72" stroke-opacity="0.5"/>
<circle cx="510.14" cy="415.66" r="1.31" fill="none" stroke="#440154" stroke-width="0.72" stroke-opacity="0.5"/>
<circle cx="530.98" cy="416.67" r="1.31" fill="none" stroke="#440154" stroke-width="0.72" stroke-opacity="0.5"/>
<circle cx="502.24" cy="418.10" r="1.31" fill="none" stroke="#440154" stroke-width="0.72" stroke-opacity="0.5"/>
<rect x="524.45" y="378.75" width="2.50" height="2.50" fill="none" stroke="#440154" stroke-width="0.72" stroke-opacity="0.95"/>
<rect x="549.55" y="431.15" width="2.50" height="2.50" fill="none" stroke="#440154" stroke-width="0.72" stroke-opacity="0.95"/>
<rect x="543.15" y="444.65" width="2.50" height="2.50" fill="none" stroke="#440154" stroke-width="0.72" stroke-opacity="0.95"/>
<rect x="490.25" y="443.85" width="2.50" height="2.50" fill="none" stroke="#440154" stroke-width="0.72" stroke-opacity="0.95"/>
<rect x="488.25" y="431.15" width="2.50" height="2.50" fill="none" stroke="#440154" stroke-width="0.72" stroke-opacity="0.95"/>
<rect x="505.15" y="388.25" width="2.50" height="2.50" fill="none" stroke="#440154" stroke-width="0.72" stroke-opacity="0.95"/>
<rect x="519.35" y="380.55" width="2.50" height="2.50" fill="none" stroke="#440154" stroke-width="0.72" stroke-opacity="0.95"/>
<rect x="506.02" y="397.89" width="2.50" height="2.50" fill="none" stroke="#440154" stroke-width="0.72" stroke-opacity="0.95"/>
<rect x="509.33" y="403.49" width="2.50" height="2.50" fill="none" stroke="#440154" stroke-width="0.72" stroke-opacity="0.95"/>
<rect x="502.14" y="413.26" width="2.50" height="2.50" fill="none" stroke="#440154" stroke-width="0.72" stroke-opacity="0.95"/>
<rect x="502.14" y="416.14" width="2.50" height="2.50" fill="none" stroke="#440154" stroke-width="0.72" stroke-opacity="0.95"/>
<rect x="512.20" y="416.14" width="2.50" height="2.50" fill="none" stroke="#440154" stroke-width="0.72" stroke-opacity="0.95"/>
<rect x="509.33" y="417.57" width="2.50" height="2.50" fill="none" stroke="#440154" stroke-width="0.72" stroke-opacity="0.95"/>
<rect x="499.99" y="421.88" width="2.50" height="2.50" fill="none" stroke="#440154" stroke-width="0.72" stroke-opacity="0.95"/>
<rect x="499.99" y="424.33" width="2.50" height="2.50" fill="none" stroke="#440154" stroke-width="0.72" stroke-opacity="0.95"/>
<rect x="505.59" y="424.33" width="2.50" height="2.50" fill="none" stroke="#440154" stroke-width="0.72" stroke-opacity="0.95"/>
<rect x="508.46" y="424.04" width="2.50" height="2.50" fill="none" stroke="#440154" stroke-width="0.72" stroke-opacity="0.95"/>
<rect x="512.20" y="428.06" width="2.50" height="2.50" fill="none" stroke="#440154" stroke-width="0.72" stroke-opacity="0.95"/>
<rect x="522.98" y="430.94" width="2.50" height="2.50" fill="none" stroke="#440154" stroke-width="0.72" stroke-opacity="0.95"/>
<rect x="533.32" y="436.97" width="2.50" height="2.50" fill="none" stroke="#440154" stroke-width="0.72" stroke-opacity="0.95"/>
<rect x="514.64" y="416.14" width="2.50" height="2.50" fill="none" stroke="#440154" stroke-width="0.72" stroke-opacity="0.95"/>
</g>
<rect x="463.6" y="265.3" width="171.89999999999998" height="235.8" fill="none" stroke="#CECECE" stroke-width="1.2"/>
<path d="M471.20,501.1v2.2M523.30,501.1v2.2M575.40,501.1v2.2M627.50,501.1v2.2M463.6,490.20h-2.2M463.6,436.70h-2.2M463.6,383.20h-2.2M463.6,329.70h-2.2M463.6,276.20h-2.2" stroke="#CECECE" stroke-width="0.8"/>
<g font-size="7.83" letter-spacing="-0.55" fill="#4D4D4D" stroke="#4D4D4D" stroke-width="0.04"><text x="470.10" y="508.60" text-anchor="middle">-0.5</text><text x="523.30" y="508.60" text-anchor="middle">0.0</text><text x="575.40" y="508.60" text-anchor="middle">0.5</text><text x="627.50" y="508.60" text-anchor="middle">1.0</text><text x="460.45" y="492.25" text-anchor="end">-0.4</text><text x="460.45" y="438.75" text-anchor="end">-0.2</text><text x="460.45" y="385.25" text-anchor="end">0.0</text><text x="460.45" y="331.75" text-anchor="end">0.2</text><text x="460.45" y="278.25" text-anchor="end">0.4</text></g>
<text x="551.15" y="515.70" text-anchor="middle" font-size="8.02" fill="#000">PC1</text>
<text transform="translate(447.90,381.50) rotate(-90)" text-anchor="middle" font-size="8.02" fill="#000">PC2</text>
<text x="549.55" y="276.90" text-anchor="middle" font-size="12.4" font-weight="bold" fill="#1a1a1a">Permian</text>
<text x="465.80" y="281.90" font-size="17.6" font-weight="bold" fill="#1a1a1a">F</text>
<rect x="602.5" y="406.7" width="82.5" height="26.69999999999999" fill="#fff"/>
<text x="605.00" y="414.00" font-size="6.7" fill="#1a1a1a">Order</text>
<rect x="605.70" y="418.80" width="8.80" height="9.55" fill="#fff" stroke="#440154" stroke-width="0.95" stroke-opacity="0.85"/>
<rect x="608.74" y="422.21" width="2.72" height="2.72" fill="none" stroke="#440154" stroke-width="0.7"/>
<text x="618.70" y="425.97" font-size="5.55" fill="#1a1a1a" stroke="#1a1a1a" stroke-width="0.05">Proetida</text>
</svg>
</body></html>
